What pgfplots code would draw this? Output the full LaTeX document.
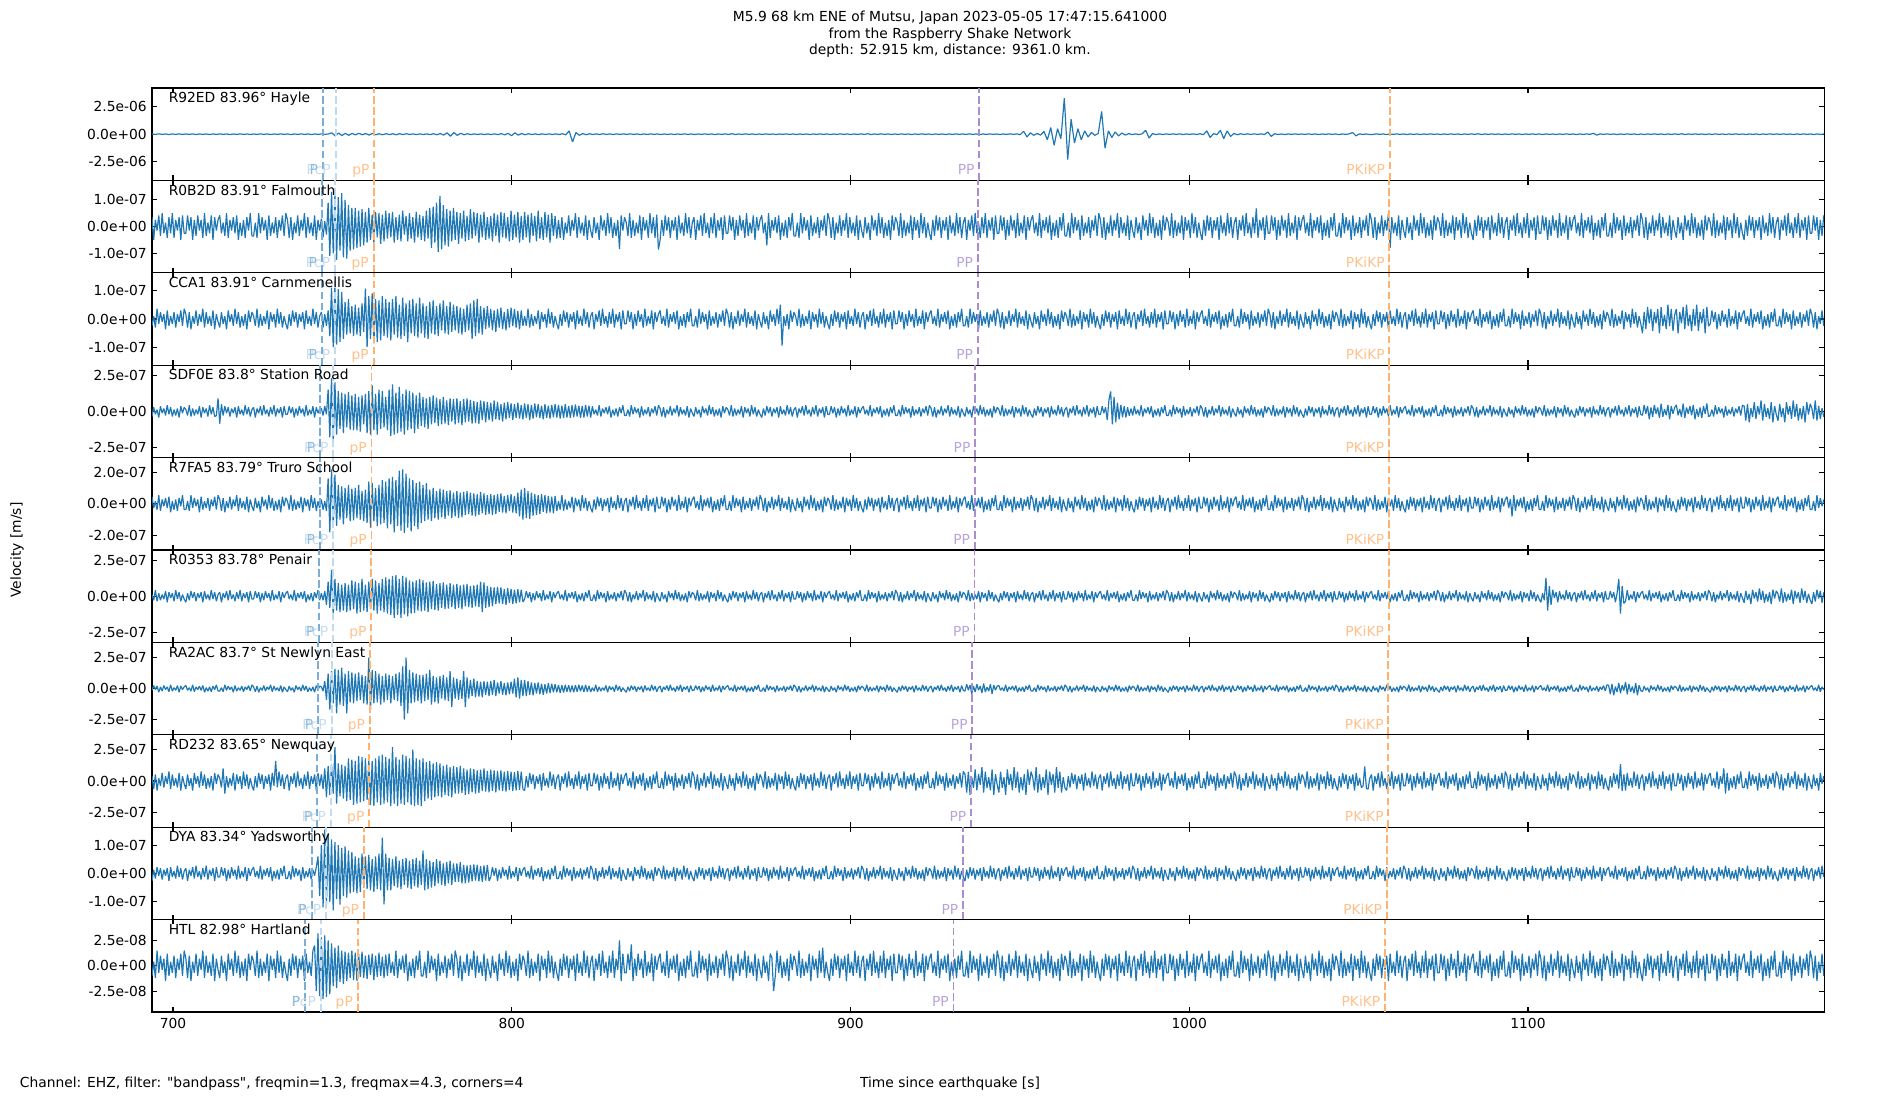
\documentclass[border=0pt]{standalone}
\usepackage{pgfplots}
\pgfplotsset{compat=1.18}
\usepackage{pgfplotstable}
\usepackage{fontspec}
\setmainfont{DejaVu Sans}[Ligatures=TeXOff]
\definecolor{tabblue}{HTML}{1F77B4}
\definecolor{lineP}{HTML}{7AAED6}
\definecolor{linePcP}{HTML}{C2DAEE}
\definecolor{lineO}{HTML}{FFB26E}
\definecolor{linePP}{HTML}{A98DCF}
\definecolor{txtP}{HTML}{8FBBDD}
\definecolor{txtPcP}{HTML}{C6DCEF}
\definecolor{txtO}{HTML}{FFC08A}
\definecolor{txtPP}{HTML}{B9A4DA}

% Panel 1: R92ED (units 1e-7 m/s), one sample per second from 693.8 s
\pgfplotstableread[header=false,row sep=\\]{
0.2\\ -0.2\\ 0.3\\ -0.2\\ 0.2\\ -0.3\\ 0.2\\ -0.2\\ 0.3\\ -0.2\\ 0.2\\ -0.2\\ 0.3\\ -0.3\\ 0.2\\ -0.2\\ 0.2\\ -0.3\\ 0.2\\ -0.2\\
0.3\\ -0.2\\ 0.2\\ -0.3\\ 0.2\\ -0.2\\ 0.3\\ -0.2\\ 0.2\\ -0.3\\ 0.2\\ -0.2\\ 0.3\\ -0.2\\ 0.2\\ -0.3\\ 0.2\\ -0.2\\ 0.3\\ -0.2\\
0.2\\ -0.3\\ 0.2\\ -0.2\\ 0.3\\ -0.2\\ 0.2\\ -0.3\\ 0.2\\ -0.2\\ 0.3\\ -0.2\\ 0.2\\ 1.2\\ -1.5\\ 1.0\\ -1.2\\ 0.8\\ -1.0\\ 0.7\\
-0.6\\ 0.8\\ -0.5\\ 0.6\\ -0.8\\ 0.7\\ -0.5\\ 0.4\\ -0.5\\ 0.5\\ -0.4\\ 0.4\\ -0.5\\ 0.4\\ -0.3\\ 0.4\\ -0.3\\ 0.3\\ -0.4\\ 0.3\\
-0.3\\ 0.3\\ -0.4\\ 0.4\\ -0.5\\ 0.6\\ -0.8\\ 1.2\\ -1.8\\ 1.5\\ -1.0\\ 0.8\\ -0.5\\ 0.4\\ -0.4\\ 0.3\\ -0.3\\ 0.3\\ -0.4\\ 0.3\\
-0.3\\ 0.3\\ -0.4\\ 0.5\\ -0.6\\ 0.8\\ -1.4\\ 1.2\\ -0.8\\ 0.6\\ -0.5\\ 0.4\\ -0.3\\ 0.3\\ -0.4\\ 0.3\\ -0.3\\ 0.3\\ -0.3\\ 0.3\\
-0.3\\ 0.4\\ -0.6\\ 3.0\\ -7.0\\ 1.5\\ -1.0\\ 0.6\\ -0.5\\ 0.4\\ -0.3\\ 0.3\\ -0.3\\ 0.4\\ -0.3\\ 0.3\\ -0.3\\ 0.3\\ -0.2\\ 0.3\\
-0.2\\ 0.3\\ -0.2\\ 0.2\\ -0.3\\ 0.2\\ -0.2\\ 0.3\\ -0.2\\ 0.2\\ -0.3\\ 0.2\\ -0.2\\ 0.2\\ -0.3\\ 0.2\\ -0.2\\ 0.3\\ -0.2\\ 0.2\\
-0.3\\ 0.2\\ -0.2\\ 0.3\\ -0.2\\ 0.2\\ -0.3\\ 0.2\\ -0.2\\ 0.3\\ -0.2\\ 0.4\\ -0.3\\ 0.2\\ -0.2\\ 0.3\\ -0.2\\ 0.2\\ -0.3\\ 0.2\\
-0.2\\ 0.3\\ -0.2\\ 0.2\\ -0.3\\ 0.2\\ -0.2\\ 0.3\\ -0.2\\ 0.2\\ -0.3\\ 0.2\\ -0.2\\ 0.2\\ -0.3\\ 0.2\\ -0.2\\ 0.3\\ -0.2\\ 0.2\\
-0.3\\ 0.2\\ -0.2\\ 0.3\\ -0.2\\ 0.2\\ -0.3\\ 0.2\\ -0.2\\ 0.3\\ -0.2\\ 0.4\\ -0.3\\ 0.2\\ -0.2\\ 0.3\\ -0.2\\ 0.2\\ -0.3\\ 0.2\\
-0.2\\ 0.3\\ -0.2\\ 0.2\\ -0.3\\ 0.2\\ -0.2\\ 0.3\\ -0.2\\ 0.2\\ -0.3\\ 0.2\\ -0.2\\ 0.2\\ -0.3\\ 0.2\\ -0.2\\ 0.3\\ -0.2\\ 0.2\\
-0.2\\ 0.3\\ -0.2\\ 0.2\\ -0.3\\ 0.2\\ -0.2\\ 0.3\\ -0.2\\ 0.2\\ -0.3\\ 0.2\\ -0.2\\ 0.3\\ -0.2\\ 0.3\\ -0.4\\ 2.7\\ -2.5\\ 1.2\\
-1.0\\ 0.6\\ -0.8\\ 2.5\\ -5\\ 6\\ -10\\ 5\\ -4\\ 32.5\\ -23\\ 13.5\\ -8\\ 5\\ -5\\ 3\\ -2.5\\ 1.5\\ -1.0\\ 0.6\\
20.5\\ -12.6\\ 3\\ -3\\ 2\\ -1.5\\ 1\\ -0.8\\ 0.5\\ -0.4\\ 0.3\\ -0.3\\ 0.4\\ 3.5\\ -3.5\\ 0.6\\ -0.4\\ 0.3\\ -0.3\\ 0.3\\
-0.2\\ 0.3\\ -0.2\\ 0.3\\ -0.3\\ 0.2\\ -0.2\\ 0.3\\ -0.3\\ 0.4\\ -0.4\\ 3\\ -3\\ 0.5\\ -0.5\\ 3.5\\ -4\\ 3\\ -2\\ 0.6\\
-0.5\\ 0.4\\ -0.3\\ 0.3\\ -0.2\\ 0.3\\ -0.2\\ 0.3\\ -0.3\\ 2\\ -2\\ 0.4\\ -0.3\\ 0.2\\ -0.3\\ 0.2\\ -0.2\\ 0.3\\ -0.2\\ 0.2\\
-0.2\\ 0.3\\ -0.2\\ 0.2\\ -0.3\\ 0.2\\ -0.2\\ 0.3\\ -0.2\\ 0.2\\ -0.3\\ 0.2\\ -0.2\\ 0.3\\ 1.5\\ -1.5\\ 0.3\\ -0.2\\ 0.2\\ -0.3\\
-0.2\\ 0.3\\ -0.2\\ 0.2\\ -0.3\\ 0.2\\ -0.2\\ 0.3\\ -0.2\\ 0.2\\ -0.3\\ 0.2\\ -0.2\\ 0.2\\ -0.3\\ 0.2\\ -0.2\\ 0.3\\ -0.2\\ 0.2\\
-0.3\\ 0.2\\ -0.2\\ 0.3\\ -0.2\\ 0.2\\ -0.3\\ 0.2\\ -0.2\\ 0.3\\ -0.2\\ 0.4\\ -0.3\\ 0.2\\ -0.2\\ 0.3\\ -0.2\\ 0.2\\ -0.3\\ 0.2\\
-0.2\\ 0.3\\ -0.2\\ 0.2\\ -0.3\\ 0.2\\ -0.2\\ 0.3\\ -0.2\\ 0.2\\ -0.3\\ 0.2\\ -0.2\\ 0.2\\ -0.3\\ 0.2\\ -0.2\\ 0.3\\ -0.2\\ 0.2\\
-0.3\\ 0.2\\ -0.2\\ 0.3\\ -0.2\\ 0.8\\ -0.8\\ 0.3\\ -0.2\\ 0.3\\ -0.2\\ 0.2\\ -0.3\\ 0.2\\ -0.2\\ 0.3\\ -0.2\\ 0.2\\ -0.3\\ 0.2\\
-0.3\\ 0.2\\ -0.2\\ 0.3\\ -0.2\\ 0.2\\ -0.3\\ 0.2\\ -0.2\\ 0.3\\ -0.2\\ 0.4\\ -0.3\\ 0.2\\ -0.2\\ 0.3\\ -0.2\\ 0.2\\ -0.3\\ 0.2\\
-0.2\\ 0.3\\ -0.2\\ 0.2\\ -0.3\\ 0.2\\ -0.2\\ 0.3\\ -0.2\\ 0.2\\ -0.3\\ 0.2\\ -0.2\\ 0.2\\ -0.3\\ 0.2\\ -0.2\\ 0.3\\ -0.2\\ 0.2\\
-0.2\\ 0.3\\ -0.2\\ 0.2\\ -0.3\\ 0.2\\ -0.2\\ 0.3\\ -0.2\\ 0.2\\ -0.3\\ 0.2\\ -0.2\\ 0.2\\
}\dA

% Panels 2-10: units 1e-9 m/s, two samples per second from 693.8 s
% Panel 2: R0B2D
\pgfplotstableread[header=false,row sep=\\]{
35\\ -50\\ 25\\ -15\\ 42\\ -35\\ 50\\ -25\\ 15\\ -42\\ 35\\ -25\\ 50\\ -42\\ 25\\ -15\\ 35\\ -50\\ 42\\ -25\\
-25\\ 42\\ -15\\ 35\\ -50\\ 25\\ -35\\ 42\\ -15\\ 25\\ -42\\ 50\\ -35\\ 15\\ -25\\ 42\\ -50\\ 35\\ -15\\ 25\\
42\\ -25\\ 15\\ -35\\ 50\\ -42\\ 25\\ -15\\ 35\\ -25\\ 42\\ -50\\ 15\\ -35\\ 25\\ -42\\ 35\\ -15\\ 50\\ -35\\
-35\\ 15\\ -42\\ 50\\ -25\\ 35\\ -15\\ 25\\ -50\\ 42\\ -35\\ 15\\ -25\\ 35\\ -42\\ 25\\ -15\\ 42\\ -35\\ 50\\
25\\ -42\\ 35\\ -50\\ 15\\ -25\\ 42\\ -35\\ 25\\ -15\\ 50\\ -42\\ 35\\ -25\\ 15\\ -35\\ 42\\ -50\\ 25\\ -15\\
30\\ -40\\ 20\\ -30\\ 90\\ -110\\ 130\\ -100\\ 120\\ -125\\ 110\\ -90\\ 125\\ -115\\ 100\\ -120\\ 80\\ -90\\ 70\\ -85\\
70\\ -80\\ 60\\ -75\\ 65\\ -70\\ 55\\ -60\\ 70\\ -50\\ 45\\ -60\\ 55\\ -40\\ 50\\ -65\\ 45\\ -55\\ 60\\ -45\\
50\\ -40\\ 55\\ -60\\ 35\\ -50\\ 45\\ -55\\ 60\\ -30\\ 40\\ -55\\ 50\\ -45\\ 35\\ -60\\ 55\\ -40\\ 45\\ -50\\
40\\ -55\\ 60\\ -45\\ 70\\ -80\\ 75\\ -60\\ 90\\ -95\\ 115\\ -85\\ 80\\ -70\\ 65\\ -75\\ 60\\ -55\\ 70\\ -50\\
55\\ -65\\ 50\\ -45\\ 60\\ -55\\ 40\\ -50\\ 65\\ -45\\ 55\\ -35\\ 50\\ -60\\ 45\\ -40\\ 55\\ -50\\ 35\\ -45\\
40\\ -55\\ 50\\ -35\\ 45\\ -60\\ 55\\ -40\\ 50\\ -45\\ 35\\ -55\\ 60\\ -50\\ 45\\ -40\\ 55\\ -60\\ 40\\ -50\\
55\\ -40\\ 45\\ -60\\ 50\\ -35\\ 40\\ -55\\ 60\\ -45\\ 35\\ -50\\ 55\\ -40\\ 45\\ -60\\ 50\\ -35\\ 40\\ -45\\
25\\ -42\\ 35\\ -50\\ 15\\ -25\\ 42\\ -35\\ 25\\ -15\\ 50\\ -42\\ 35\\ -25\\ 15\\ -35\\ 42\\ -50\\ 25\\ -15\\
-42\\ 35\\ -25\\ 15\\ -50\\ 42\\ -15\\ 25\\ -35\\ 50\\ -25\\ 35\\ -42\\ 15\\ -35\\ 25\\ -84\\ 42\\ -15\\ 35\\
15\\ -35\\ 50\\ -42\\ 25\\ -35\\ 15\\ -25\\ 42\\ -50\\ 35\\ -15\\ 25\\ -42\\ 50\\ -25\\ 35\\ -42\\ 45\\ -86\\
-50\\ 25\\ -35\\ 42\\ -15\\ 35\\ -42\\ 25\\ -15\\ 35\\ -50\\ 42\\ -25\\ 15\\ -35\\ 50\\ -25\\ 35\\ -42\\ 15\\
35\\ -50\\ 25\\ -15\\ 42\\ -35\\ 50\\ -25\\ 15\\ -42\\ 35\\ -25\\ 50\\ -42\\ 25\\ -15\\ 35\\ -50\\ 42\\ -25\\
-25\\ 42\\ -15\\ 35\\ -50\\ 25\\ -35\\ 42\\ -15\\ 25\\ -42\\ 50\\ -35\\ 15\\ -25\\ 42\\ -50\\ 35\\ -15\\ 25\\
42\\ -25\\ 15\\ -70\\ 50\\ -42\\ 25\\ -15\\ 35\\ -25\\ 42\\ -50\\ 15\\ -35\\ 25\\ -42\\ 35\\ -15\\ 50\\ -35\\
-35\\ 15\\ -42\\ 50\\ -25\\ 35\\ -15\\ 25\\ -50\\ 42\\ -35\\ 15\\ -25\\ 35\\ -42\\ 25\\ -15\\ 42\\ -35\\ 50\\
25\\ -42\\ 35\\ -50\\ 15\\ -25\\ 42\\ -35\\ 25\\ -15\\ 50\\ -42\\ 35\\ -25\\ 15\\ -35\\ 42\\ -50\\ 25\\ -15\\
-42\\ 35\\ -25\\ 15\\ -50\\ 42\\ -15\\ 25\\ -35\\ 50\\ -25\\ 35\\ -42\\ 15\\ -35\\ 25\\ -50\\ 42\\ -15\\ 35\\
15\\ -35\\ 50\\ -42\\ 25\\ -35\\ 15\\ -25\\ 42\\ -50\\ 35\\ -15\\ 25\\ -42\\ 50\\ -25\\ 35\\ -42\\ 15\\ -25\\
-50\\ 25\\ -35\\ 42\\ -15\\ 35\\ -42\\ 25\\ -15\\ 35\\ -50\\ 42\\ -25\\ 15\\ -35\\ 50\\ -25\\ 35\\ -42\\ 15\\
35\\ -50\\ 25\\ -15\\ 42\\ -35\\ 50\\ -25\\ 15\\ -42\\ 35\\ -25\\ 50\\ -42\\ 25\\ -15\\ 35\\ -50\\ 42\\ -25\\
-25\\ 42\\ -15\\ 35\\ -50\\ 25\\ -35\\ 42\\ -15\\ 25\\ -42\\ 50\\ -35\\ 15\\ -25\\ 42\\ -50\\ 35\\ -15\\ 25\\
42\\ -25\\ 15\\ -35\\ 50\\ -42\\ 25\\ -15\\ 35\\ -25\\ 42\\ -50\\ 15\\ -35\\ 25\\ -42\\ 35\\ -15\\ 50\\ -35\\
-35\\ 15\\ -42\\ 50\\ -25\\ 35\\ -15\\ 25\\ -50\\ 42\\ -35\\ 15\\ -25\\ 35\\ -42\\ 25\\ -15\\ 42\\ -35\\ 50\\
25\\ -42\\ 35\\ -50\\ 15\\ -25\\ 42\\ -35\\ 25\\ -15\\ 50\\ -42\\ 35\\ -25\\ 15\\ -35\\ 42\\ -50\\ 25\\ -15\\
-42\\ 35\\ -25\\ 15\\ -50\\ 42\\ -15\\ 25\\ -35\\ 50\\ -25\\ 35\\ -42\\ 15\\ -35\\ 25\\ -50\\ 42\\ -15\\ 35\\
15\\ -35\\ 50\\ -42\\ 25\\ -35\\ 15\\ -25\\ 42\\ -50\\ 35\\ -15\\ 25\\ -42\\ 50\\ -25\\ 35\\ -42\\ 15\\ -25\\
-50\\ 25\\ -35\\ 42\\ -15\\ 35\\ -42\\ 25\\ -15\\ 35\\ -50\\ 42\\ -25\\ 15\\ -35\\ 50\\ -25\\ 35\\ -42\\ 15\\
35\\ -50\\ 25\\ -15\\ 42\\ -35\\ 50\\ -25\\ 15\\ -42\\ 35\\ -25\\ 68\\ -42\\ 25\\ -15\\ 35\\ -50\\ 42\\ -25\\
-25\\ 42\\ -15\\ 35\\ -50\\ 25\\ -35\\ 42\\ -15\\ 25\\ -42\\ 50\\ -35\\ 15\\ -25\\ 42\\ -50\\ 35\\ -15\\ 25\\
42\\ -25\\ 15\\ -35\\ 50\\ -42\\ 25\\ -15\\ 35\\ -25\\ 42\\ -50\\ 15\\ -35\\ 25\\ -42\\ 35\\ -15\\ 50\\ -35\\
-35\\ 15\\ -42\\ 50\\ -25\\ 35\\ -15\\ 25\\ -50\\ 42\\ -35\\ 15\\ -25\\ 35\\ -42\\ 25\\ -15\\ 42\\ -35\\ 50\\
25\\ -42\\ 35\\ -50\\ 15\\ -25\\ 42\\ -35\\ 25\\ -15\\ 50\\ -80\\ 35\\ -25\\ 15\\ -35\\ 42\\ -50\\ 25\\ -15\\
-42\\ 35\\ -25\\ 15\\ -50\\ 42\\ -15\\ 25\\ -35\\ 50\\ -25\\ 35\\ -42\\ 15\\ -35\\ 25\\ -50\\ 42\\ -15\\ 35\\
15\\ -35\\ 50\\ -42\\ 25\\ -35\\ 15\\ -25\\ 42\\ -50\\ 35\\ -15\\ 25\\ -42\\ 50\\ -25\\ 35\\ -42\\ 15\\ -25\\
-50\\ 25\\ -35\\ 42\\ -15\\ 35\\ -42\\ 25\\ -15\\ 35\\ -50\\ 42\\ -25\\ 15\\ -35\\ 50\\ -25\\ 35\\ -42\\ 15\\
35\\ -50\\ 25\\ -15\\ 42\\ -35\\ 50\\ -25\\ 15\\ -42\\ 35\\ -25\\ 50\\ -42\\ 25\\ -15\\ 35\\ -50\\ 42\\ -25\\
-25\\ 42\\ -15\\ 35\\ -50\\ 25\\ -35\\ 42\\ -15\\ 25\\ -42\\ 50\\ -35\\ 15\\ -25\\ 42\\ -50\\ 35\\ -15\\ 25\\
42\\ -25\\ 15\\ -35\\ 50\\ -42\\ 25\\ -15\\ 35\\ -25\\ 42\\ -50\\ 15\\ -35\\ 25\\ -42\\ 35\\ -15\\ 50\\ -35\\
-35\\ 15\\ -42\\ 50\\ -25\\ 35\\ -15\\ 25\\ -50\\ 42\\ -35\\ 15\\ -25\\ 35\\ -42\\ 25\\ -15\\ 42\\ -35\\ 50\\
25\\ -42\\ 35\\ -50\\ 15\\ -25\\ 42\\ -35\\ 25\\ -15\\ 50\\ -42\\ 35\\ -25\\ 15\\ -35\\ 42\\ -50\\ 25\\ -15\\
-42\\ 35\\ -25\\ 15\\ -50\\ 42\\ -15\\ 25\\ -35\\ 50\\ -25\\ 35\\ -42\\ 15\\ -35\\ 25\\ -50\\ 42\\ -15\\ 35\\
15\\ -35\\ 50\\ -42\\ 25\\ -35\\ 15\\ -25\\ 42\\ -50\\ 35\\ -15\\ 25\\ -42\\ 50\\ -25\\ 35\\ -42\\ 15\\ -25\\
-50\\ 25\\ -35\\ 42\\ -15\\ 35\\ -42\\ 25\\ -15\\ 35\\ -50\\ 42\\ -25\\ 15\\ -35\\ 50\\ -25\\ 35\\ -42\\ 15\\
35\\ -50\\ 25\\ -15\\ 42\\ -35\\ 50\\ -25\\ 15\\ -42\\ 35\\ -25\\ 50\\ -42\\ 25\\ -15\\ 35\\ -50\\ 42\\ -25\\
-25\\ 42\\ -15\\ 35\\ -50\\ 25\\ -35\\ 42\\
}\dB

% Panel 3: CCA1
\pgfplotstableread[header=false,row sep=\\]{
-24\\ 10\\ -30\\ 36\\ -17\\ 24\\ -10\\ 17\\ -36\\ 30\\ -24\\ 10\\ -17\\ 24\\ -30\\ 17\\ -10\\ 30\\ -24\\ 36\\
17\\ -30\\ 24\\ -36\\ 10\\ -17\\ 30\\ -24\\ 17\\ -10\\ 36\\ -30\\ 24\\ -17\\ 10\\ -24\\ 30\\ -36\\ 17\\ -10\\
-30\\ 24\\ -17\\ 10\\ -36\\ 30\\ -10\\ 17\\ -24\\ 36\\ -17\\ 24\\ -30\\ 10\\ -24\\ 17\\ -36\\ 30\\ -10\\ 24\\
10\\ -24\\ 36\\ -30\\ 17\\ -24\\ 10\\ -17\\ 30\\ -36\\ 24\\ -10\\ 17\\ -30\\ 36\\ -17\\ 24\\ -30\\ 10\\ -17\\
-36\\ 17\\ -24\\ 30\\ -10\\ 24\\ -30\\ 17\\ -10\\ 24\\ -36\\ 30\\ -17\\ 10\\ -24\\ 36\\ -17\\ 24\\ -30\\ 10\\
24\\ -30\\ 17\\ -24\\ 30\\ -60\\ 110\\ -99\\ 125\\ -90\\ 105\\ -80\\ 95\\ -70\\ 60\\ -55\\ 70\\ -50\\ 45\\ -60\\
50\\ -55\\ 40\\ -60\\ 55\\ -45\\ 106\\ -99\\ 80\\ -70\\ 90\\ -85\\ 70\\ -80\\ 65\\ -75\\ 80\\ -60\\ 70\\ -65\\
60\\ -75\\ 70\\ -55\\ 80\\ -65\\ 50\\ -70\\ 75\\ -60\\ 55\\ -80\\ 65\\ -50\\ 70\\ -60\\ 55\\ -65\\ 75\\ -50\\
55\\ -65\\ 45\\ -70\\ 60\\ -50\\ 65\\ -55\\ 45\\ -60\\ 55\\ -40\\ 65\\ -50\\ 45\\ -55\\ 60\\ -45\\ 50\\ -40\\
45\\ -50\\ 40\\ -55\\ 35\\ -45\\ 50\\ -40\\ 55\\ -70\\ 65\\ -60\\ 70\\ -50\\ 45\\ -55\\ 40\\ -35\\ 45\\ -30\\
35\\ -40\\ 30\\ -45\\ 35\\ -30\\ 40\\ -35\\ 25\\ -40\\ 35\\ -30\\ 40\\ -25\\ 35\\ -30\\ 28\\ -36\\ 30\\ -24\\
10\\ -24\\ 36\\ -30\\ 17\\ -24\\ 10\\ -17\\ 30\\ -36\\ 24\\ -10\\ 17\\ -30\\ 36\\ -17\\ 24\\ -30\\ 10\\ -17\\
-36\\ 17\\ -24\\ 30\\ -10\\ 24\\ -30\\ 17\\ -10\\ 24\\ -36\\ 30\\ -17\\ 10\\ -24\\ 36\\ -17\\ 24\\ -30\\ 10\\
24\\ -36\\ 17\\ -10\\ 30\\ -24\\ 36\\ -17\\ 10\\ -30\\ 24\\ -17\\ 36\\ -30\\ 17\\ -10\\ 24\\ -36\\ 30\\ -17\\
-17\\ 30\\ -10\\ 24\\ -36\\ 17\\ -24\\ 30\\ -10\\ 17\\ -30\\ 36\\ -24\\ 10\\ -17\\ 30\\ -36\\ 24\\ -10\\ 17\\
30\\ -17\\ 10\\ -24\\ 36\\ -30\\ 17\\ -10\\ 24\\ -17\\ 30\\ -36\\ 10\\ -24\\ 17\\ -30\\ 24\\ -10\\ 36\\ -24\\
-24\\ 10\\ -30\\ 36\\ -17\\ 24\\ -10\\ 17\\ -36\\ 30\\ -24\\ 10\\ -17\\ 24\\ -30\\ 17\\ -10\\ 30\\ -24\\ 36\\
17\\ -30\\ 24\\ -36\\ 10\\ -17\\ 30\\ -24\\ 17\\ -10\\ 36\\ -30\\ 24\\ -17\\ 10\\ -24\\ 30\\ -36\\ 17\\ -10\\
-30\\ 24\\ -17\\ 10\\ -36\\ 30\\ -10\\ 17\\ -24\\ 36\\ -17\\ 50\\ -93\\ 10\\ -24\\ 17\\ -36\\ 30\\ -10\\ 24\\
10\\ -24\\ 36\\ -30\\ 17\\ -24\\ 10\\ -17\\ 30\\ -36\\ 24\\ -10\\ 17\\ -30\\ 36\\ -17\\ 24\\ -30\\ 10\\ -17\\
-36\\ 17\\ -24\\ 30\\ -10\\ 24\\ -30\\ 17\\ -10\\ 24\\ -36\\ 30\\ -17\\ 10\\ -24\\ 36\\ -17\\ 24\\ -30\\ 10\\
24\\ -36\\ 17\\ -10\\ 30\\ -24\\ 36\\ -17\\ 10\\ -30\\ 24\\ -17\\ 36\\ -30\\ 17\\ -10\\ 24\\ -36\\ 30\\ -17\\
-17\\ 30\\ -10\\ 24\\ -36\\ 17\\ -24\\ 30\\ -10\\ 17\\ -30\\ 36\\ -24\\ 10\\ -17\\ 30\\ -36\\ 24\\ -10\\ 17\\
30\\ -17\\ 10\\ -24\\ 36\\ -30\\ 17\\ -10\\ 24\\ -17\\ 30\\ -36\\ 10\\ -24\\ 17\\ -30\\ 24\\ -10\\ 36\\ -24\\
-24\\ 10\\ -30\\ 36\\ -17\\ 24\\ -10\\ 17\\ -36\\ 30\\ -24\\ 10\\ -17\\ 24\\ -30\\ 17\\ -10\\ 30\\ -24\\ 36\\
17\\ -30\\ 24\\ -36\\ 10\\ -17\\ 30\\ -24\\ 17\\ -10\\ 36\\ -30\\ 24\\ -17\\ 10\\ -24\\ 30\\ -36\\ 17\\ -10\\
-30\\ 24\\ -17\\ 10\\ -36\\ 30\\ -10\\ 17\\ -24\\ 36\\ -17\\ 24\\ -30\\ 10\\ -24\\ 17\\ -36\\ 30\\ -10\\ 24\\
10\\ -24\\ 36\\ -30\\ 17\\ -24\\ 10\\ -17\\ 30\\ -36\\ 24\\ -10\\ 17\\ -30\\ 36\\ -17\\ 24\\ -30\\ 10\\ -17\\
-36\\ 17\\ -24\\ 30\\ -10\\ 24\\ -30\\ 17\\ -10\\ 24\\ -36\\ 30\\ -17\\ 10\\ -24\\ 36\\ -17\\ 24\\ -30\\ 10\\
24\\ -36\\ 17\\ -10\\ 30\\ -24\\ 36\\ -17\\ 10\\ -30\\ 24\\ -17\\ 36\\ -30\\ 17\\ -10\\ 24\\ -36\\ 30\\ -17\\
-17\\ 30\\ -10\\ 24\\ -36\\ 17\\ -24\\ 30\\ -10\\ 17\\ -30\\ 36\\ -24\\ 10\\ -17\\ 30\\ -36\\ 24\\ -10\\ 17\\
30\\ -17\\ 10\\ -24\\ 36\\ -30\\ 17\\ -10\\ 24\\ -17\\ 30\\ -36\\ 10\\ -24\\ 17\\ -30\\ 24\\ -10\\ 36\\ -24\\
-24\\ 10\\ -30\\ 36\\ -17\\ 24\\ -10\\ 17\\ -36\\ 30\\ -24\\ 10\\ -17\\ 24\\ -30\\ 17\\ -10\\ 30\\ -24\\ 36\\
17\\ -30\\ 24\\ -36\\ 10\\ -17\\ 30\\ -24\\ 17\\ -10\\ 36\\ -30\\ 24\\ -17\\ 10\\ -24\\ 30\\ -36\\ 17\\ -10\\
-30\\ 24\\ -17\\ 10\\ -36\\ 30\\ -10\\ 17\\ -24\\ 36\\ -17\\ 24\\ -30\\ 10\\ -24\\ 17\\ -36\\ 30\\ -10\\ 24\\
10\\ -24\\ 36\\ -30\\ 17\\ -24\\ 10\\ -17\\ 30\\ -36\\ 24\\ -10\\ 17\\ -30\\ 36\\ -17\\ 24\\ -30\\ 10\\ -17\\
-36\\ 17\\ -24\\ 30\\ -10\\ 24\\ -30\\ 17\\ -10\\ 24\\ -36\\ 30\\ -17\\ 10\\ -24\\ 36\\ -17\\ 24\\ -30\\ 10\\
24\\ -36\\ 17\\ -10\\ 30\\ -24\\ 36\\ -17\\ 10\\ -30\\ 24\\ -17\\ 36\\ -30\\ 17\\ -10\\ 24\\ -36\\ 30\\ -17\\
-17\\ 30\\ -10\\ 24\\ -36\\ 17\\ -24\\ 30\\ -10\\ 17\\ -30\\ 36\\ -24\\ 10\\ -17\\ 30\\ -36\\ 24\\ -10\\ 17\\
30\\ -17\\ 10\\ -24\\ 36\\ -30\\ 17\\ -10\\ 24\\ -17\\ 30\\ -36\\ 10\\ -24\\ 17\\ -30\\ 24\\ -10\\ 36\\ -24\\
-24\\ 10\\ -30\\ 36\\ -17\\ 24\\ -10\\ 17\\ -36\\ 30\\ -24\\ 10\\ -17\\ 24\\ -30\\ 17\\ -10\\ 30\\ -24\\ 36\\
17\\ -30\\ 24\\ -36\\ 10\\ -17\\ 30\\ -24\\ 17\\ -10\\ 36\\ -30\\ 24\\ -17\\ 10\\ -24\\ 30\\ -36\\ 17\\ -10\\
-30\\ 24\\ -17\\ 10\\ -36\\ 30\\ -10\\ 17\\ -24\\ 36\\ -17\\ 24\\ -30\\ 10\\ -24\\ 17\\ -36\\ 30\\ -10\\ 24\\
10\\ -24\\ 36\\ -30\\ 17\\ -24\\ 10\\ -17\\ 30\\ -36\\ 24\\ -10\\ 17\\ -30\\ 36\\ -17\\ 24\\ -30\\ 10\\ -17\\
-50\\ 25\\ -35\\ 42\\ -15\\ 35\\ -42\\ 25\\ -15\\ 35\\ -50\\ 42\\ -25\\ 15\\ -35\\ 50\\ -25\\ 35\\ -42\\ 15\\
35\\ -50\\ 25\\ -15\\ 42\\ -35\\ 50\\ -25\\ 15\\ -42\\ 35\\ -25\\ 50\\ -42\\ 25\\ -15\\ 35\\ -50\\ 42\\ -25\\
-17\\ 30\\ -10\\ 24\\ -36\\ 17\\ -24\\ 30\\ -10\\ 17\\ -30\\ 36\\ -24\\ 10\\ -17\\ 30\\ -36\\ 24\\ -10\\ 17\\
30\\ -17\\ 10\\ -24\\ 36\\ -30\\ 17\\ -10\\ 24\\ -17\\ 30\\ -36\\ 10\\ -24\\ 17\\ -30\\ 24\\ -10\\ 36\\ -24\\
-24\\ 10\\ -30\\ 36\\ -17\\ 24\\ -10\\ 17\\ -36\\ 30\\ -24\\ 10\\ -17\\ 24\\ -30\\ 17\\ -10\\ 30\\ -24\\ 36\\
17\\ -30\\ 24\\ -36\\ 10\\ -17\\ 30\\ -24\\
}\dC

% Panel 4: SDF0E
\pgfplotstableread[header=false,row sep=\\]{
-35\\ 28\\ -20\\ 12\\ -42\\ 35\\ -12\\ 20\\ -28\\ 42\\ -20\\ 28\\ -35\\ 12\\ -28\\ 20\\ -42\\ 35\\ -12\\ 28\\
12\\ -28\\ 42\\ -35\\ 20\\ -28\\ 12\\ -20\\ 35\\ -42\\ 28\\ -12\\ 20\\ -35\\ 42\\ -20\\ 28\\ -35\\ -30\\ 90\\
-85\\ 50\\ -28\\ 35\\ -12\\ 28\\ -35\\ 20\\ -12\\ 28\\ -42\\ 35\\ -20\\ 12\\ -28\\ 42\\ -20\\ 28\\ -35\\ 12\\
28\\ -42\\ 20\\ -12\\ 35\\ -28\\ 42\\ -20\\ 12\\ -35\\ 28\\ -20\\ 42\\ -35\\ 20\\ -12\\ 28\\ -42\\ 35\\ -20\\
-20\\ 35\\ -12\\ 28\\ -42\\ 20\\ -28\\ 35\\ -12\\ 20\\ -35\\ 42\\ -28\\ 12\\ -20\\ 35\\ -42\\ 28\\ -12\\ 20\\
20\\ -28\\ 35\\ -20\\ 150\\ -180\\ 230\\ -216\\ 200\\ -160\\ 140\\ -120\\ 130\\ -150\\ 120\\ -110\\ 135\\ -125\\ 110\\ -130\\
120\\ -130\\ 100\\ -140\\ 110\\ -90\\ 120\\ -150\\ 140\\ -160\\ 180\\ -130\\ 120\\ -160\\ 150\\ -120\\ 140\\ -110\\ 100\\ -130\\
150\\ -170\\ 187\\ -160\\ 130\\ -150\\ 170\\ -140\\ 120\\ -160\\ 150\\ -130\\ 140\\ -120\\ 130\\ -150\\ 110\\ -120\\ 130\\ -100\\
100\\ -110\\ 90\\ -120\\ 100\\ -90\\ 110\\ -80\\ 95\\ -100\\ 85\\ -90\\ 100\\ -85\\ 75\\ -95\\ 90\\ -70\\ 85\\ -90\\
90\\ -80\\ 70\\ -95\\ 85\\ -75\\ 90\\ -70\\ 80\\ -85\\ 70\\ -80\\ 65\\ -85\\ 75\\ -60\\ 70\\ -75\\ 65\\ -60\\
60\\ -70\\ 75\\ -55\\ 65\\ -60\\ 50\\ -70\\ 60\\ -55\\ 65\\ -45\\ 55\\ -60\\ 50\\ -45\\ 60\\ -50\\ 45\\ -55\\
55\\ -45\\ 50\\ -60\\ 45\\ -50\\ 55\\ -40\\ 50\\ -45\\ 40\\ -55\\ 50\\ -45\\ 40\\ -50\\ 45\\ -40\\ 50\\ -42\\
45\\ -50\\ 40\\ -45\\ 50\\ -42\\ 38\\ -45\\ 42\\ -40\\ 48\\ -35\\ 40\\ -45\\ 38\\ -42\\ 45\\ -35\\ 40\\ -42\\
35\\ -20\\ 12\\ -28\\ 42\\ -35\\ 20\\ -12\\ 28\\ -20\\ 35\\ -42\\ 12\\ -28\\ 20\\ -35\\ 28\\ -12\\ 42\\ -28\\
-28\\ 12\\ -35\\ 42\\ -20\\ 28\\ -12\\ 20\\ -42\\ 35\\ -28\\ 12\\ -20\\ 28\\ -35\\ 20\\ -12\\ 35\\ -28\\ 42\\
20\\ -35\\ 28\\ -42\\ 12\\ -20\\ 35\\ -28\\ 20\\ -12\\ 42\\ -35\\ 28\\ -20\\ 12\\ -28\\ 35\\ -42\\ 20\\ -12\\
-35\\ 28\\ -20\\ 12\\ -42\\ 35\\ -12\\ 20\\ -28\\ 42\\ -20\\ 28\\ -35\\ 12\\ -28\\ 20\\ -42\\ 35\\ -12\\ 28\\
12\\ -28\\ 42\\ -35\\ 20\\ -28\\ 12\\ -20\\ 35\\ -42\\ 28\\ -12\\ 20\\ -35\\ 42\\ -20\\ 28\\ -35\\ 12\\ -20\\
-42\\ 20\\ -28\\ 35\\ -12\\ 28\\ -35\\ 20\\ -12\\ 28\\ -42\\ 35\\ -20\\ 12\\ -28\\ 42\\ -20\\ 28\\ -35\\ 12\\
28\\ -42\\ 20\\ -12\\ 35\\ -28\\ 42\\ -20\\ 12\\ -35\\ 28\\ -20\\ 42\\ -35\\ 20\\ -12\\ 28\\ -42\\ 35\\ -20\\
-20\\ 35\\ -12\\ 28\\ -42\\ 20\\ -28\\ 35\\ -12\\ 20\\ -35\\ 42\\ -28\\ 12\\ -20\\ 35\\ -42\\ 28\\ -12\\ 20\\
35\\ -20\\ 12\\ -28\\ 42\\ -35\\ 20\\ -12\\ 28\\ -20\\ 35\\ -42\\ 12\\ -28\\ 20\\ -35\\ 28\\ -12\\ 42\\ -28\\
-28\\ 12\\ -35\\ 42\\ -20\\ 28\\ -12\\ 20\\ -42\\ 35\\ -28\\ 12\\ -20\\ 28\\ -35\\ 20\\ -12\\ 35\\ -28\\ 42\\
20\\ -35\\ 28\\ -42\\ 12\\ -20\\ 35\\ -28\\ 20\\ -12\\ 42\\ -35\\ 28\\ -20\\ 12\\ -28\\ 35\\ -42\\ 20\\ -12\\
-35\\ 28\\ -20\\ 12\\ -42\\ 35\\ -12\\ 20\\ -28\\ 42\\ -20\\ 28\\ -35\\ 12\\ -28\\ 20\\ -42\\ 35\\ -12\\ 28\\
12\\ -28\\ 42\\ -35\\ 20\\ -28\\ 12\\ -20\\ 35\\ -42\\ 28\\ -12\\ 20\\ -35\\ 42\\ -20\\ 28\\ -35\\ 12\\ -20\\
-42\\ 20\\ -28\\ 35\\ -12\\ 28\\ -35\\ 20\\ -12\\ 28\\ -42\\ 35\\ -20\\ 12\\ -28\\ 42\\ -20\\ 28\\ -35\\ 12\\
28\\ -42\\ 20\\ -12\\ 35\\ -28\\ 42\\ -20\\ 12\\ -35\\ 28\\ -20\\ 42\\ -35\\ 20\\ -12\\ 28\\ -42\\ 35\\ -20\\
-20\\ 35\\ -12\\ 28\\ -60\\ 80\\ 138\\ -90\\ 100\\ -75\\ 60\\ -55\\ 45\\ -40\\ 35\\ -42\\ 28\\ -30\\ 20\\ -28\\
35\\ -20\\ 12\\ -28\\ 42\\ -35\\ 20\\ -12\\ 28\\ -20\\ 35\\ -42\\ 12\\ -28\\ 20\\ -35\\ 28\\ -12\\ 42\\ -28\\
-28\\ 12\\ -35\\ 42\\ -20\\ 28\\ -12\\ 20\\ -42\\ 35\\ -28\\ 12\\ -20\\ 28\\ -35\\ 20\\ -12\\ 35\\ -28\\ 42\\
20\\ -35\\ 28\\ -42\\ 12\\ -20\\ 35\\ -28\\ 20\\ -12\\ 42\\ -35\\ 28\\ -20\\ 12\\ -28\\ 35\\ -42\\ 20\\ -12\\
-35\\ 28\\ -20\\ 12\\ -42\\ 35\\ -12\\ 20\\ -28\\ 42\\ -20\\ 28\\ -35\\ 12\\ -28\\ 20\\ -42\\ 35\\ -12\\ 28\\
12\\ -28\\ 42\\ -35\\ 20\\ -28\\ 12\\ -20\\ 35\\ -42\\ 28\\ -12\\ 20\\ -35\\ 42\\ -20\\ 28\\ -35\\ 12\\ -20\\
-42\\ 20\\ -28\\ 35\\ -12\\ 28\\ -35\\ 20\\ -12\\ 28\\ -42\\ 35\\ -20\\ 12\\ -28\\ 42\\ -20\\ 28\\ -35\\ 12\\
28\\ -42\\ 20\\ -12\\ 35\\ -28\\ 42\\ -20\\ 12\\ -35\\ 28\\ -20\\ 42\\ -35\\ 20\\ -12\\ 28\\ -42\\ 35\\ -20\\
-20\\ 35\\ -12\\ 28\\ -42\\ 20\\ -28\\ 35\\ -12\\ 20\\ -35\\ 42\\ -28\\ 12\\ -20\\ 35\\ -42\\ 28\\ -12\\ 20\\
35\\ -20\\ 12\\ -28\\ 42\\ -35\\ 20\\ -12\\ 28\\ -20\\ 35\\ -42\\ 12\\ -28\\ 20\\ -35\\ 28\\ -12\\ 42\\ -28\\
-28\\ 12\\ -35\\ 42\\ -20\\ 28\\ -12\\ 20\\ -42\\ 35\\ -28\\ 12\\ -20\\ 28\\ -35\\ 20\\ -12\\ 35\\ -28\\ 42\\
20\\ -35\\ 28\\ -42\\ 12\\ -20\\ 35\\ -28\\ 20\\ -12\\ 42\\ -35\\ 28\\ -20\\ 12\\ -28\\ 35\\ -42\\ 20\\ -12\\
-35\\ 28\\ -20\\ 12\\ -42\\ 35\\ -12\\ 20\\ -28\\ 42\\ -20\\ 28\\ -35\\ 12\\ -28\\ 20\\ -42\\ 35\\ -12\\ 28\\
12\\ -28\\ 42\\ -35\\ 20\\ -28\\ 12\\ -20\\ 35\\ -42\\ 28\\ -12\\ 20\\ -35\\ 42\\ -20\\ 28\\ -35\\ 12\\ -20\\
-42\\ 20\\ -28\\ 35\\ -12\\ 28\\ -35\\ 20\\ -12\\ 28\\ -42\\ 35\\ -20\\ 12\\ -28\\ 42\\ -20\\ 28\\ -35\\ 12\\
28\\ -42\\ 20\\ -12\\ 35\\ -28\\ 42\\ -20\\ 12\\ -35\\ 28\\ -20\\ 42\\ -35\\ 20\\ -12\\ 28\\ -42\\ 35\\ -20\\
-27\\ 45\\ -16\\ 37\\ -54\\ 27\\ -37\\ 45\\ -16\\ 27\\ -45\\ 54\\ -37\\ 16\\ -27\\ 45\\ -54\\ 37\\ -16\\ 27\\
45\\ -27\\ 16\\ -37\\ 54\\ -45\\ 27\\ -16\\ 37\\ -27\\ 45\\ -54\\ 16\\ -37\\ 27\\ -45\\ 37\\ -16\\ 54\\ -37\\
-28\\ 12\\ -35\\ 42\\ -20\\ 28\\ -12\\ 20\\ -42\\ 35\\ -28\\ 12\\ -20\\ 28\\ -35\\ 20\\ -12\\ 35\\ -28\\ 42\\
38\\ -64\\ 52\\ -76\\ 22\\ -38\\ 64\\ -52\\ 38\\ -22\\ 76\\ -64\\ 52\\ -38\\ 22\\ -52\\ 64\\ -76\\ 38\\ -22\\
-64\\ 52\\ -38\\ 22\\ -76\\ 64\\ -22\\ 38\\ -52\\ 76\\ -38\\ 52\\ -64\\ 22\\ -52\\ 38\\ -76\\ 64\\ -22\\ 52\\
22\\ -52\\ 76\\ -64\\ 38\\ -52\\ 22\\ -38\\
}\dD

% Panel 5: R7FA5
\pgfplotstableread[header=false,row sep=\\]{
45\\ -27\\ 16\\ -37\\ 54\\ -45\\ 27\\ -16\\ 37\\ -27\\ 45\\ -54\\ 16\\ -37\\ 27\\ -45\\ 37\\ -16\\ 54\\ -37\\
-37\\ 16\\ -45\\ 54\\ -27\\ 37\\ -16\\ 27\\ -54\\ 45\\ -37\\ 16\\ -27\\ 37\\ -45\\ 27\\ -16\\ 45\\ -37\\ 54\\
27\\ -45\\ 37\\ -54\\ 16\\ -27\\ 45\\ -37\\ 27\\ -16\\ 54\\ -45\\ 37\\ -27\\ 16\\ -37\\ 45\\ -54\\ 27\\ -16\\
-45\\ 37\\ -27\\ 16\\ -54\\ 45\\ -16\\ 27\\ -37\\ 54\\ -27\\ 37\\ -45\\ 16\\ -37\\ 27\\ -54\\ 45\\ -16\\ 37\\
16\\ -37\\ 54\\ -45\\ 27\\ -37\\ 16\\ -27\\ 45\\ -54\\ 37\\ -16\\ 27\\ -45\\ 54\\ -27\\ 37\\ -45\\ 16\\ -27\\
27\\ -37\\ 16\\ -45\\ 160\\ -180\\ 217\\ -150\\ 184\\ -140\\ 120\\ -100\\ 110\\ -130\\ 100\\ -90\\ 120\\ -110\\ 95\\ -105\\
100\\ -90\\ 120\\ -100\\ 80\\ -110\\ 90\\ -120\\ 140\\ -150\\ 130\\ -110\\ 100\\ -140\\ 120\\ -130\\ 150\\ -120\\ 140\\ -155\\
160\\ -130\\ 170\\ -180\\ 150\\ -140\\ 210\\ -170\\ 217\\ -184\\ 190\\ -150\\ 160\\ -175\\ 150\\ -140\\ 130\\ -160\\ 140\\ -120\\
120\\ -110\\ 130\\ -100\\ 90\\ -110\\ 100\\ -90\\ 80\\ -100\\ 95\\ -85\\ 90\\ -95\\ 80\\ -75\\ 85\\ -90\\ 70\\ -80\\
80\\ -90\\ 70\\ -85\\ 75\\ -70\\ 80\\ -65\\ 70\\ -75\\ 65\\ -80\\ 60\\ -70\\ 75\\ -60\\ 65\\ -70\\ 55\\ -65\\
60\\ -70\\ 55\\ -65\\ 60\\ -50\\ 65\\ -55\\ 50\\ -60\\ 55\\ -45\\ 60\\ -55\\ 50\\ -60\\ 70\\ -80\\ 90\\ -100\\
100\\ -90\\ 80\\ -95\\ 70\\ -75\\ 60\\ -70\\ 55\\ -65\\ 60\\ -50\\ 55\\ -60\\ 50\\ -55\\ 45\\ -60\\ 50\\ -45\\
16\\ -37\\ 54\\ -45\\ 27\\ -37\\ 16\\ -27\\ 45\\ -54\\ 37\\ -16\\ 27\\ -45\\ 54\\ -27\\ 37\\ -45\\ 16\\ -27\\
-54\\ 27\\ -37\\ 45\\ -16\\ 37\\ -45\\ 27\\ -16\\ 37\\ -54\\ 45\\ -27\\ 16\\ -37\\ 54\\ -27\\ 37\\ -45\\ 16\\
37\\ -54\\ 27\\ -16\\ 45\\ -37\\ 54\\ -27\\ 16\\ -45\\ 37\\ -27\\ 54\\ -45\\ 27\\ -16\\ 37\\ -54\\ 45\\ -27\\
-27\\ 45\\ -16\\ 37\\ -54\\ 27\\ -37\\ 45\\ -16\\ 27\\ -45\\ 54\\ -37\\ 16\\ -27\\ 45\\ -54\\ 37\\ -16\\ 27\\
45\\ -27\\ 16\\ -37\\ 54\\ -45\\ 27\\ -16\\ 37\\ -27\\ 45\\ -54\\ 16\\ -37\\ 27\\ -45\\ 37\\ -16\\ 54\\ -37\\
-37\\ 16\\ -45\\ 54\\ -27\\ 37\\ -16\\ 27\\ -54\\ 45\\ -37\\ 16\\ -27\\ 37\\ -45\\ 27\\ -16\\ 45\\ -37\\ 54\\
27\\ -45\\ 37\\ -54\\ 16\\ -27\\ 45\\ -37\\ 27\\ -16\\ 54\\ -45\\ 37\\ -27\\ 16\\ -37\\ 45\\ -54\\ 27\\ -16\\
-45\\ 37\\ -27\\ 16\\ -54\\ 45\\ -16\\ 27\\ -37\\ 54\\ -27\\ 37\\ -45\\ 16\\ -37\\ 27\\ -54\\ 45\\ -16\\ 37\\
16\\ -37\\ 54\\ -45\\ 27\\ -37\\ 16\\ -27\\ 45\\ -54\\ 37\\ -16\\ 27\\ -45\\ 54\\ -27\\ 37\\ -45\\ 16\\ -27\\
-54\\ 27\\ -37\\ 45\\ -16\\ 37\\ -45\\ 27\\ -16\\ 37\\ -54\\ 45\\ -27\\ 16\\ -37\\ 54\\ -27\\ 37\\ -45\\ 16\\
37\\ -54\\ 27\\ -16\\ 45\\ -37\\ 54\\ -27\\ 16\\ -45\\ 37\\ -27\\ 54\\ -45\\ 27\\ -16\\ 37\\ -54\\ 45\\ -27\\
-27\\ 45\\ -16\\ 37\\ -54\\ 27\\ -37\\ 45\\ -16\\ 27\\ -45\\ 54\\ -37\\ 16\\ -27\\ 45\\ -54\\ 37\\ -16\\ 27\\
45\\ -27\\ 16\\ -37\\ 54\\ -45\\ 27\\ -16\\ 37\\ -27\\ 45\\ -54\\ 16\\ -37\\ 27\\ -45\\ 37\\ -16\\ 54\\ -37\\
-37\\ 16\\ -45\\ 54\\ -27\\ 37\\ -16\\ 27\\ -54\\ 45\\ -37\\ 16\\ -27\\ 37\\ -45\\ 27\\ -16\\ 45\\ -37\\ 54\\
27\\ -45\\ 37\\ -54\\ 16\\ -27\\ 45\\ -37\\ 27\\ -16\\ 54\\ -45\\ 37\\ -27\\ 16\\ -37\\ 45\\ -54\\ 27\\ -16\\
-45\\ 37\\ -27\\ 16\\ -54\\ 45\\ -16\\ 27\\ -37\\ 54\\ -27\\ 37\\ -45\\ 16\\ -37\\ 27\\ -54\\ 45\\ -16\\ 37\\
16\\ -37\\ 54\\ -45\\ 27\\ -37\\ 16\\ -27\\ 45\\ -54\\ 37\\ -16\\ 27\\ -45\\ 54\\ -27\\ 37\\ -45\\ 16\\ -27\\
-54\\ 27\\ -37\\ 45\\ -16\\ 37\\ -45\\ 27\\ -16\\ 37\\ -54\\ 45\\ -27\\ 16\\ -37\\ 54\\ -27\\ 37\\ -45\\ 16\\
37\\ -54\\ 27\\ -16\\ 45\\ -37\\ 54\\ -27\\ 16\\ -45\\ 37\\ -27\\ 54\\ -45\\ 27\\ -16\\ 37\\ -54\\ 45\\ -27\\
-27\\ 45\\ -16\\ 37\\ -54\\ 27\\ -37\\ 45\\ -16\\ 27\\ -45\\ 54\\ -37\\ 16\\ -27\\ 45\\ -54\\ 37\\ -16\\ 27\\
45\\ -27\\ 16\\ -37\\ 54\\ -45\\ 27\\ -16\\ 37\\ -27\\ 45\\ -54\\ 16\\ -37\\ 27\\ -45\\ 37\\ -16\\ 54\\ -37\\
-37\\ 16\\ -45\\ 54\\ -27\\ 37\\ -16\\ 27\\ -54\\ 45\\ -37\\ 16\\ -27\\ 37\\ -45\\ 27\\ -16\\ 45\\ -37\\ 54\\
27\\ -45\\ 37\\ -54\\ 16\\ -27\\ 45\\ -37\\ 27\\ -16\\ 54\\ -45\\ 37\\ -27\\ 16\\ -37\\ 45\\ -54\\ 27\\ -16\\
-45\\ 37\\ -27\\ 16\\ -54\\ 45\\ -16\\ 27\\ -37\\ 54\\ -27\\ 37\\ -45\\ 16\\ -37\\ 27\\ -54\\ 45\\ -16\\ 37\\
16\\ -37\\ 54\\ -45\\ 27\\ -37\\ 16\\ -27\\ 45\\ -54\\ 37\\ -16\\ 27\\ -45\\ 54\\ -27\\ 37\\ -45\\ 16\\ -27\\
-54\\ 27\\ -37\\ 45\\ -16\\ 37\\ -45\\ 27\\ -16\\ 37\\ -54\\ 45\\ -27\\ 16\\ -37\\ 54\\ -27\\ 37\\ -45\\ 16\\
37\\ -54\\ 27\\ -16\\ 45\\ -37\\ 54\\ -27\\ 16\\ -45\\ 37\\ -27\\ 54\\ -45\\ 27\\ -16\\ 37\\ -54\\ 45\\ -27\\
-27\\ 45\\ -16\\ 37\\ -54\\ 27\\ -37\\ 45\\ -16\\ 27\\ -45\\ 54\\ -37\\ 16\\ -27\\ 45\\ -54\\ 37\\ -16\\ 27\\
45\\ -27\\ 30\\ -80\\ 54\\ -45\\ 27\\ -16\\ 37\\ -27\\ 45\\ -54\\ 16\\ -37\\ 27\\ -45\\ 37\\ -16\\ 54\\ -37\\
-37\\ 16\\ -45\\ 54\\ -27\\ 37\\ -16\\ 27\\ -54\\ 45\\ -37\\ 16\\ -27\\ 37\\ -45\\ 27\\ -16\\ 45\\ -37\\ 54\\
27\\ -45\\ 37\\ -54\\ 16\\ -27\\ 45\\ -37\\ 27\\ -16\\ 54\\ -45\\ 37\\ -27\\ 16\\ -37\\ 45\\ -54\\ 27\\ -16\\
-45\\ 37\\ -27\\ 16\\ -54\\ 45\\ -16\\ 27\\ -37\\ 54\\ -27\\ 37\\ -45\\ 16\\ -37\\ 27\\ -54\\ 45\\ -16\\ 37\\
16\\ -37\\ 54\\ -45\\ 27\\ -37\\ 16\\ -27\\ 45\\ -54\\ 37\\ -16\\ 27\\ -45\\ 54\\ -27\\ 37\\ -45\\ 16\\ -27\\
-54\\ 27\\ -37\\ 45\\ -16\\ 37\\ -45\\ 27\\ -16\\ 37\\ -54\\ 45\\ -27\\ 16\\ -37\\ 54\\ -27\\ 37\\ -45\\ 16\\
37\\ -54\\ 27\\ -16\\ 45\\ -37\\ 54\\ -27\\ 16\\ -45\\ 37\\ -27\\ 54\\ -45\\ 27\\ -16\\ 37\\ -54\\ 45\\ -27\\
-27\\ 45\\ -16\\ 37\\ -54\\ 27\\ -37\\ 45\\ -16\\ 27\\ -45\\ 54\\ -37\\ 16\\ -27\\ 45\\ -54\\ 37\\ -16\\ 27\\
45\\ -27\\ 16\\ -37\\ 54\\ -45\\ 27\\ -16\\ 37\\ -27\\ 45\\ -54\\ 16\\ -37\\ 27\\ -45\\ 37\\ -16\\ 54\\ -37\\
-37\\ 16\\ -45\\ 54\\ -27\\ 37\\ -16\\ 27\\
}\dE

% Panel 6: R0353
\pgfplotstableread[header=false,row sep=\\]{
12\\ -28\\ 42\\ -35\\ 20\\ -28\\ 12\\ -20\\ 35\\ -42\\ 28\\ -12\\ 20\\ -35\\ 42\\ -20\\ 28\\ -35\\ 12\\ -20\\
-42\\ 20\\ -28\\ 35\\ -12\\ 28\\ -35\\ 20\\ -12\\ 28\\ -42\\ 35\\ -20\\ 12\\ -28\\ 42\\ -20\\ 28\\ -35\\ 12\\
28\\ -42\\ 20\\ -12\\ 35\\ -28\\ 42\\ -20\\ 12\\ -35\\ 28\\ -20\\ 42\\ -35\\ 20\\ -12\\ 28\\ -42\\ 35\\ -20\\
-20\\ 35\\ -12\\ 28\\ -42\\ 20\\ -28\\ 35\\ -12\\ 20\\ -35\\ 42\\ -28\\ 12\\ -20\\ 35\\ -42\\ 28\\ -12\\ 20\\
35\\ -20\\ 12\\ -28\\ 42\\ -35\\ 20\\ -12\\ 28\\ -20\\ 35\\ -42\\ 12\\ -28\\ 20\\ -35\\ 28\\ -12\\ 42\\ -28\\
20\\ -28\\ 35\\ -60\\ 100\\ -80\\ 180\\ -130\\ 120\\ -100\\ 90\\ -110\\ 80\\ -100\\ 90\\ -110\\ 80\\ -100\\ 110\\ -90\\
100\\ -120\\ 90\\ -110\\ 120\\ -100\\ 80\\ -110\\ 100\\ -90\\ 120\\ -100\\ 110\\ -120\\ 90\\ -100\\ 120\\ -110\\ 130\\ -120\\
120\\ -130\\ 140\\ -150\\ 146\\ -130\\ 120\\ -150\\ 140\\ -125\\ 130\\ -140\\ 110\\ -120\\ 100\\ -115\\ 110\\ -100\\ 120\\ -105\\
110\\ -100\\ 95\\ -110\\ 100\\ -90\\ 105\\ -95\\ 85\\ -100\\ 90\\ -80\\ 95\\ -90\\ 80\\ -85\\ 90\\ -75\\ 80\\ -90\\
85\\ -80\\ 75\\ -90\\ 80\\ -70\\ 85\\ -75\\ 70\\ -80\\ 75\\ -70\\ 80\\ -75\\ 100\\ -110\\ 95\\ -80\\ 70\\ -75\\
65\\ -70\\ 60\\ -55\\ 65\\ -50\\ 60\\ -55\\ 50\\ -60\\ 55\\ -45\\ 50\\ -55\\ 45\\ -50\\ 48\\ -42\\ 45\\ -40\\
-20\\ 35\\ -12\\ 28\\ -42\\ 20\\ -28\\ 35\\ -12\\ 20\\ -35\\ 42\\ -28\\ 12\\ -20\\ 35\\ -42\\ 28\\ -12\\ 20\\
35\\ -20\\ 12\\ -28\\ 42\\ -35\\ 20\\ -12\\ 28\\ -20\\ 35\\ -42\\ 12\\ -28\\ 20\\ -35\\ 28\\ -12\\ 42\\ -28\\
-28\\ 12\\ -35\\ 42\\ -20\\ 28\\ -12\\ 20\\ -42\\ 35\\ -28\\ 12\\ -20\\ 28\\ -35\\ 20\\ -12\\ 35\\ -28\\ 42\\
20\\ -35\\ 28\\ -42\\ 12\\ -20\\ 35\\ -28\\ 20\\ -12\\ 42\\ -35\\ 28\\ -20\\ 12\\ -28\\ 35\\ -42\\ 20\\ -12\\
-35\\ 28\\ -20\\ 12\\ -42\\ 35\\ -12\\ 20\\ -28\\ 42\\ -20\\ 28\\ -35\\ 12\\ -28\\ 20\\ -42\\ 35\\ -12\\ 28\\
12\\ -28\\ 42\\ -35\\ 20\\ -28\\ 12\\ -20\\ 35\\ -42\\ 28\\ -12\\ 20\\ -35\\ 42\\ -20\\ 28\\ -35\\ 12\\ -20\\
-42\\ 20\\ -28\\ 35\\ -12\\ 28\\ -35\\ 20\\ -12\\ 28\\ -42\\ 35\\ -20\\ 12\\ -28\\ 42\\ -20\\ 28\\ -35\\ 12\\
28\\ -42\\ 20\\ -12\\ 35\\ -28\\ 42\\ -20\\ 12\\ -35\\ 28\\ -20\\ 42\\ -35\\ 20\\ -12\\ 28\\ -42\\ 35\\ -20\\
-20\\ 35\\ -12\\ 28\\ -42\\ 20\\ -28\\ 35\\ -12\\ 20\\ -35\\ 42\\ -28\\ 12\\ -20\\ 35\\ -42\\ 28\\ -12\\ 20\\
35\\ -20\\ 12\\ -28\\ 42\\ -35\\ 20\\ -12\\ 28\\ -20\\ 35\\ -42\\ 12\\ -28\\ 20\\ -35\\ 28\\ -12\\ 42\\ -28\\
-28\\ 12\\ -35\\ 42\\ -20\\ 28\\ -12\\ 20\\ -42\\ 35\\ -28\\ 12\\ -20\\ 28\\ -35\\ 20\\ -12\\ 35\\ -28\\ 42\\
20\\ -35\\ 28\\ -42\\ 12\\ -20\\ 35\\ -28\\ 20\\ -12\\ 42\\ -35\\ 28\\ -20\\ 12\\ -28\\ 35\\ -42\\ 20\\ -12\\
-35\\ 28\\ -20\\ 12\\ -42\\ 35\\ -12\\ 20\\ -28\\ 42\\ -20\\ 28\\ -35\\ 12\\ -28\\ 20\\ -42\\ 35\\ -12\\ 28\\
12\\ -28\\ 42\\ -35\\ 20\\ -28\\ 12\\ -20\\ 35\\ -42\\ 28\\ -12\\ 20\\ -35\\ 42\\ -20\\ 28\\ -35\\ 12\\ -20\\
-42\\ 20\\ -28\\ 35\\ -12\\ 28\\ -35\\ 20\\ -12\\ 28\\ -42\\ 35\\ -20\\ 12\\ -28\\ 42\\ -20\\ 28\\ -35\\ 12\\
28\\ -42\\ 20\\ -12\\ 35\\ -28\\ 42\\ -20\\ 12\\ -35\\ 28\\ -20\\ 42\\ -35\\ 20\\ -12\\ 28\\ -42\\ 35\\ -20\\
-20\\ 35\\ -12\\ 28\\ -42\\ 20\\ -28\\ 35\\ -12\\ 20\\ -35\\ 42\\ -28\\ 12\\ -20\\ 35\\ -42\\ 28\\ -12\\ 20\\
35\\ -20\\ 12\\ -28\\ 42\\ -35\\ 20\\ -12\\ 28\\ -20\\ 35\\ -42\\ 12\\ -28\\ 20\\ -35\\ 28\\ -12\\ 42\\ -28\\
-28\\ 12\\ -35\\ 42\\ -20\\ 28\\ -12\\ 20\\ -42\\ 35\\ -28\\ 12\\ -20\\ 28\\ -35\\ 20\\ -12\\ 35\\ -28\\ 42\\
20\\ -35\\ 28\\ -42\\ 12\\ -20\\ 35\\ -28\\ 20\\ -12\\ 42\\ -35\\ 28\\ -20\\ 12\\ -28\\ 35\\ -42\\ 20\\ -12\\
-35\\ 28\\ -20\\ 12\\ -42\\ 35\\ -12\\ 20\\ -28\\ 42\\ -20\\ 28\\ -35\\ 12\\ -28\\ 20\\ -42\\ 35\\ -12\\ 28\\
12\\ -28\\ 42\\ -35\\ 20\\ -28\\ 12\\ -20\\ 35\\ -42\\ 28\\ -12\\ 20\\ -35\\ 42\\ -20\\ 28\\ -35\\ 12\\ -20\\
-42\\ 20\\ -28\\ 35\\ -12\\ 28\\ -35\\ 20\\ -12\\ 28\\ -42\\ 35\\ -20\\ 12\\ -28\\ 42\\ -20\\ 28\\ -35\\ 12\\
28\\ -42\\ 20\\ -12\\ 35\\ -28\\ 42\\ -20\\ 12\\ -35\\ 28\\ -20\\ 42\\ -35\\ 20\\ -12\\ 28\\ -42\\ 35\\ -20\\
-20\\ 35\\ -12\\ 28\\ -42\\ 20\\ -28\\ 35\\ -12\\ 20\\ -35\\ 42\\ -28\\ 12\\ -20\\ 35\\ -42\\ 28\\ -12\\ 20\\
35\\ -20\\ 12\\ -28\\ 42\\ -35\\ 20\\ -12\\ 28\\ -20\\ 35\\ -42\\ 12\\ -28\\ 20\\ -35\\ 28\\ -12\\ 42\\ -28\\
-28\\ 12\\ -35\\ 42\\ -20\\ 28\\ -12\\ 20\\ -42\\ 35\\ -28\\ 12\\ -20\\ 28\\ -35\\ 20\\ -12\\ 35\\ -28\\ 42\\
20\\ -35\\ 28\\ -42\\ 12\\ -20\\ 35\\ -28\\ 20\\ -12\\ 42\\ -35\\ 28\\ -20\\ 12\\ -28\\ 35\\ -42\\ 20\\ -12\\
-35\\ 28\\ -20\\ 12\\ -42\\ 35\\ -12\\ 20\\ -28\\ 42\\ -20\\ 28\\ -35\\ 12\\ -28\\ 20\\ -42\\ 35\\ -12\\ 28\\
12\\ -28\\ 42\\ -35\\ 20\\ -28\\ 12\\ -20\\ 35\\ -42\\ 28\\ -12\\ 20\\ -35\\ 42\\ -20\\ 28\\ -35\\ 12\\ -20\\
-42\\ 20\\ -28\\ 126\\ -100\\ 70\\ -60\\ 45\\ -12\\ 28\\ -42\\ 35\\ -20\\ 12\\ -28\\ 42\\ -20\\ 28\\ -35\\ 12\\
28\\ -42\\ 20\\ -12\\ 35\\ -28\\ 42\\ -20\\ 12\\ -35\\ 28\\ -20\\ 42\\ -35\\ 20\\ -12\\ 28\\ -42\\ 35\\ -20\\
-20\\ 35\\ -12\\ 28\\ -42\\ 20\\ 120\\ -120\\ 70\\ -50\\ -35\\ 42\\ -28\\ 12\\ -20\\ 35\\ -42\\ 28\\ -12\\ 20\\
35\\ -20\\ 12\\ -28\\ 42\\ -35\\ 20\\ -12\\ 28\\ -20\\ 35\\ -42\\ 12\\ -28\\ 20\\ -35\\ 28\\ -12\\ 42\\ -28\\
-28\\ 12\\ -35\\ 42\\ -20\\ 28\\ -12\\ 20\\ -42\\ 35\\ -28\\ 12\\ -20\\ 28\\ -35\\ 20\\ -12\\ 35\\ -28\\ 42\\
20\\ -35\\ 28\\ -42\\ 12\\ -20\\ 35\\ -28\\ 20\\ -12\\ 42\\ -35\\ 28\\ -20\\ 12\\ -28\\ 35\\ -42\\ 20\\ -12\\
-45\\ 37\\ -27\\ 16\\ -54\\ 45\\ -16\\ 27\\ -37\\ 54\\ -27\\ 37\\ -45\\ 16\\ -37\\ 27\\ -54\\ 45\\ -16\\ 37\\
16\\ -37\\ 54\\ -45\\ 27\\ -37\\ 16\\ -27\\ 45\\ -54\\ 37\\ -16\\ 27\\ -45\\ 54\\ -27\\ 37\\ -45\\ 16\\ -27\\
-54\\ 27\\ -37\\ 45\\ -16\\ 37\\ -45\\ 27\\
}\dF

% Panel 7: RA2AC
\pgfplotstableread[header=false,row sep=\\]{
-14\\ 25\\ -8\\ 20\\ -30\\ 14\\ -20\\ 25\\ -8\\ 14\\ -25\\ 30\\ -20\\ 8\\ -14\\ 25\\ -30\\ 20\\ -8\\ 14\\
25\\ -14\\ 8\\ -20\\ 30\\ -25\\ 14\\ -8\\ 20\\ -14\\ 25\\ -30\\ 8\\ -20\\ 14\\ -25\\ 20\\ -8\\ 30\\ -20\\
-20\\ 8\\ -25\\ 30\\ -14\\ 20\\ -8\\ 14\\ -30\\ 25\\ -20\\ 8\\ -14\\ 20\\ -25\\ 14\\ -8\\ 25\\ -20\\ 30\\
14\\ -25\\ 20\\ -30\\ 8\\ -14\\ 25\\ -20\\ 14\\ -8\\ 30\\ -25\\ 20\\ -14\\ 8\\ -20\\ 25\\ -30\\ 14\\ -8\\
-25\\ 20\\ -14\\ 8\\ -30\\ 25\\ -8\\ 14\\ -20\\ 30\\ -14\\ 20\\ -25\\ 8\\ -20\\ 14\\ -30\\ 25\\ -8\\ 20\\
14\\ -20\\ 60\\ -90\\ 120\\ -170\\ 140\\ -120\\ 160\\ -200\\ 150\\ -130\\ 170\\ -140\\ 120\\ -200\\ 140\\ -110\\ 130\\ -120\\
120\\ -100\\ 130\\ -90\\ 110\\ -120\\ 100\\ -130\\ 250\\ -170\\ 150\\ -120\\ 140\\ -110\\ 120\\ -130\\ 100\\ -110\\ 120\\ -90\\
110\\ -120\\ 100\\ -90\\ 120\\ -100\\ 130\\ -140\\ 180\\ -250\\ 250\\ -200\\ 150\\ -120\\ 130\\ -110\\ 120\\ -100\\ 110\\ -120\\
110\\ -100\\ 120\\ -90\\ 150\\ -130\\ 100\\ -110\\ 90\\ -120\\ 100\\ -80\\ 110\\ -95\\ 90\\ -100\\ 140\\ -150\\ 90\\ -80\\
80\\ -90\\ 70\\ -85\\ 140\\ -150\\ 90\\ -80\\ 70\\ -60\\ 80\\ -70\\ 60\\ -65\\ 55\\ -70\\ 60\\ -50\\ 55\\ -60\\
60\\ -50\\ 70\\ -60\\ 50\\ -40\\ 60\\ -50\\ 45\\ -55\\ 50\\ -45\\ 55\\ -40\\ 80\\ -70\\ 90\\ -80\\ 70\\ -60\\
70\\ -60\\ 60\\ -50\\ 50\\ -55\\ 45\\ -40\\ 50\\ -45\\ 40\\ -50\\ 35\\ -40\\ 45\\ -35\\ 40\\ -30\\ 35\\ -30\\
30\\ -35\\ 28\\ -32\\ 30\\ -25\\ 28\\ -30\\ 25\\ -30\\ 28\\ -25\\ 30\\ -22\\ 25\\ -28\\ 30\\ -25\\ 22\\ -28\\
8\\ -20\\ 30\\ -25\\ 14\\ -20\\ 8\\ -14\\ 25\\ -30\\ 20\\ -8\\ 14\\ -25\\ 30\\ -14\\ 20\\ -25\\ 8\\ -14\\
-30\\ 14\\ -20\\ 25\\ -8\\ 20\\ -25\\ 14\\ -8\\ 20\\ -30\\ 25\\ -14\\ 8\\ -20\\ 30\\ -14\\ 20\\ -25\\ 8\\
20\\ -30\\ 14\\ -8\\ 25\\ -20\\ 30\\ -14\\ 8\\ -25\\ 20\\ -14\\ 30\\ -25\\ 14\\ -8\\ 20\\ -30\\ 25\\ -14\\
-14\\ 25\\ -8\\ 20\\ -30\\ 14\\ -20\\ 25\\ -8\\ 14\\ -25\\ 30\\ -20\\ 8\\ -14\\ 25\\ -30\\ 20\\ -8\\ 14\\
25\\ -14\\ 8\\ -20\\ 30\\ -25\\ 14\\ -8\\ 20\\ -14\\ 25\\ -30\\ 8\\ -20\\ 14\\ -25\\ 20\\ -8\\ 30\\ -20\\
-20\\ 8\\ -25\\ 30\\ -14\\ 20\\ -8\\ 14\\ -30\\ 25\\ -20\\ 8\\ -14\\ 20\\ -25\\ 14\\ -8\\ 25\\ -20\\ 30\\
14\\ -25\\ 20\\ -30\\ 8\\ -14\\ 25\\ -20\\ 14\\ -8\\ 30\\ -25\\ 20\\ -14\\ 8\\ -20\\ 25\\ -30\\ 14\\ -8\\
-25\\ 20\\ -14\\ 8\\ -30\\ 25\\ -8\\ 14\\ -20\\ 30\\ -14\\ 20\\ -25\\ 8\\ -20\\ 14\\ -30\\ 25\\ -8\\ 20\\
8\\ -20\\ 30\\ -25\\ 14\\ -20\\ 8\\ -14\\ 25\\ -30\\ 20\\ -8\\ 14\\ -25\\ 30\\ -14\\ 20\\ -25\\ 8\\ -14\\
-30\\ 14\\ -20\\ 25\\ -8\\ 20\\ -25\\ 14\\ -8\\ 20\\ -30\\ 25\\ -14\\ 8\\ -20\\ 30\\ -14\\ 20\\ -25\\ 8\\
20\\ -30\\ 14\\ -8\\ 25\\ -20\\ 30\\ -14\\ 8\\ -25\\ 20\\ -14\\ 30\\ -25\\ 14\\ -8\\ 20\\ -30\\ 25\\ -14\\
-20\\ 35\\ -12\\ 28\\ -42\\ 20\\ -28\\ 35\\ -12\\ 20\\ -35\\ 42\\ -28\\ 12\\ -20\\ 35\\ -42\\ 28\\ -12\\ 20\\
25\\ -14\\ 8\\ -20\\ 30\\ -25\\ 14\\ -8\\ 20\\ -14\\ 25\\ -30\\ 8\\ -20\\ 14\\ -25\\ 20\\ -8\\ 30\\ -20\\
-20\\ 8\\ -25\\ 30\\ -14\\ 20\\ -8\\ 14\\ -30\\ 25\\ -20\\ 8\\ -14\\ 20\\ -25\\ 14\\ -8\\ 25\\ -20\\ 30\\
14\\ -25\\ 20\\ -30\\ 8\\ -14\\ 25\\ -20\\ 14\\ -8\\ 30\\ -25\\ 20\\ -14\\ 8\\ -20\\ 25\\ -30\\ 14\\ -8\\
-25\\ 20\\ -14\\ 8\\ -30\\ 25\\ -8\\ 14\\ -20\\ 30\\ -14\\ 20\\ -25\\ 8\\ -20\\ 14\\ -30\\ 25\\ -8\\ 20\\
8\\ -20\\ 30\\ -25\\ 14\\ -20\\ 8\\ -14\\ 25\\ -30\\ 20\\ -8\\ 14\\ -25\\ 30\\ -14\\ 20\\ -25\\ 8\\ -14\\
-30\\ 14\\ -20\\ 25\\ -8\\ 20\\ -25\\ 14\\ -8\\ 20\\ -30\\ 25\\ -14\\ 8\\ -20\\ 30\\ -14\\ 20\\ -25\\ 8\\
20\\ -30\\ 14\\ -8\\ 25\\ -20\\ 30\\ -14\\ 8\\ -25\\ 20\\ -14\\ 30\\ -25\\ 14\\ -8\\ 20\\ -30\\ 25\\ -14\\
-14\\ 25\\ -8\\ 20\\ -30\\ 14\\ -20\\ 25\\ -8\\ 14\\ -25\\ 30\\ -20\\ 8\\ -14\\ 25\\ -30\\ 20\\ -8\\ 14\\
25\\ -14\\ 8\\ -20\\ 30\\ -25\\ 14\\ -8\\ 20\\ -14\\ 25\\ -30\\ 8\\ -20\\ 14\\ -25\\ 20\\ -8\\ 30\\ -20\\
-20\\ 8\\ -25\\ 30\\ -14\\ 20\\ -8\\ 14\\ -30\\ 25\\ -20\\ 8\\ -14\\ 20\\ -25\\ 14\\ -8\\ 25\\ -20\\ 30\\
14\\ -25\\ 20\\ -30\\ 8\\ -14\\ 25\\ -20\\ 14\\ -8\\ 30\\ -25\\ 20\\ -14\\ 8\\ -20\\ 25\\ -30\\ 14\\ -8\\
-25\\ 20\\ -14\\ 8\\ -30\\ 25\\ -8\\ 14\\ -20\\ 30\\ -14\\ 20\\ -25\\ 8\\ -20\\ 14\\ -30\\ 25\\ -8\\ 20\\
8\\ -20\\ 30\\ -25\\ 14\\ -20\\ 8\\ -14\\ 25\\ -30\\ 20\\ -8\\ 14\\ -25\\ 30\\ -14\\ 20\\ -25\\ 8\\ -14\\
-30\\ 14\\ -20\\ 25\\ -8\\ 20\\ -25\\ 14\\ -8\\ 20\\ -30\\ 25\\ -14\\ 8\\ -20\\ 30\\ -14\\ 20\\ -25\\ 8\\
20\\ -30\\ 14\\ -8\\ 25\\ -20\\ 30\\ -14\\ 8\\ -25\\ 20\\ -14\\ 30\\ -25\\ 14\\ -8\\ 20\\ -30\\ 25\\ -14\\
-14\\ 25\\ -8\\ 20\\ -30\\ 14\\ -20\\ 25\\ -8\\ 14\\ -25\\ 30\\ -20\\ 8\\ -14\\ 25\\ -30\\ 20\\ -8\\ 14\\
25\\ -14\\ 8\\ -20\\ 30\\ -25\\ 14\\ -8\\ 20\\ -14\\ 25\\ -30\\ 8\\ -20\\ 14\\ -25\\ 20\\ -8\\ 30\\ -20\\
-20\\ 8\\ -25\\ 30\\ -14\\ 20\\ -8\\ 14\\ -30\\ 25\\ -20\\ 8\\ -14\\ 20\\ -25\\ 14\\ -8\\ 25\\ -20\\ 30\\
27\\ -45\\ 37\\ -54\\ 16\\ -27\\ 45\\ -37\\ 27\\ -16\\ 54\\ -45\\ 37\\ -27\\ 16\\ -37\\ 45\\ -54\\ 27\\ -16\\
-25\\ 20\\ -14\\ 8\\ -30\\ 25\\ -8\\ 14\\ -20\\ 30\\ -14\\ 20\\ -25\\ 8\\ -20\\ 14\\ -30\\ 25\\ -8\\ 20\\
8\\ -20\\ 30\\ -25\\ 14\\ -20\\ 8\\ -14\\ 25\\ -30\\ 20\\ -8\\ 14\\ -25\\ 30\\ -14\\ 20\\ -25\\ 8\\ -14\\
-30\\ 14\\ -20\\ 25\\ -8\\ 20\\ -25\\ 14\\ -8\\ 20\\ -30\\ 25\\ -14\\ 8\\ -20\\ 30\\ -14\\ 20\\ -25\\ 8\\
20\\ -30\\ 14\\ -8\\ 25\\ -20\\ 30\\ -14\\ 8\\ -25\\ 20\\ -14\\ 30\\ -25\\ 14\\ -8\\ 20\\ -30\\ 25\\ -14\\
-14\\ 25\\ -8\\ 20\\ -30\\ 14\\ -20\\ 25\\ -8\\ 14\\ -25\\ 30\\ -20\\ 8\\ -14\\ 25\\ -30\\ 20\\ -8\\ 14\\
25\\ -14\\ 8\\ -20\\ 30\\ -25\\ 14\\ -8\\
}\dG

% Panel 8: RD232
\pgfplotstableread[header=false,row sep=\\]{
38\\ -64\\ 52\\ -76\\ 22\\ -38\\ 64\\ -52\\ 38\\ -22\\ 76\\ -64\\ 52\\ -38\\ 22\\ -52\\ 64\\ -76\\ 38\\ -22\\
-64\\ 52\\ -38\\ 22\\ -76\\ 64\\ -22\\ 38\\ -52\\ 76\\ -38\\ 52\\ -64\\ 22\\ -52\\ 38\\ -76\\ 64\\ -22\\ 52\\
22\\ -52\\ 100\\ -100\\ 38\\ -52\\ 22\\ -38\\ 64\\ -76\\ 52\\ -22\\ 38\\ -64\\ 76\\ -38\\ 52\\ -64\\ 22\\ -38\\
-76\\ 38\\ -52\\ 64\\ -22\\ 52\\ -64\\ 38\\ -22\\ 52\\ -76\\ 64\\ -38\\ 160\\ -50\\ 76\\ -38\\ 52\\ -64\\ 22\\
52\\ -76\\ 38\\ -22\\ 64\\ -52\\ 76\\ -38\\ 22\\ -64\\ 52\\ -38\\ 76\\ -64\\ 38\\ -22\\ 52\\ -76\\ 64\\ -38\\
52\\ -64\\ 100\\ -130\\ 120\\ -110\\ 130\\ -100\\ 270\\ -180\\ 140\\ -120\\ 130\\ -140\\ 120\\ -160\\ 180\\ -150\\ 170\\ -190\\
160\\ -180\\ 200\\ -170\\ 190\\ -160\\ 180\\ -150\\ 170\\ -190\\ 160\\ -200\\ 180\\ -170\\ 200\\ -190\\ 210\\ -180\\ 190\\ -170\\
180\\ -200\\ 270\\ -180\\ 190\\ -200\\ 170\\ -180\\ 210\\ -190\\ 200\\ -170\\ 180\\ -190\\ 250\\ -200\\ 180\\ -190\\ 170\\ -200\\
180\\ -160\\ 150\\ -140\\ 160\\ -150\\ 140\\ -130\\ 150\\ -120\\ 140\\ -130\\ 120\\ -110\\ 130\\ -120\\ 110\\ -130\\ 120\\ -100\\
110\\ -100\\ 120\\ -95\\ 100\\ -110\\ 90\\ -105\\ 100\\ -90\\ 95\\ -100\\ 85\\ -95\\ 90\\ -80\\ 100\\ -85\\ 80\\ -90\\
90\\ -80\\ 85\\ -90\\ 80\\ -75\\ 85\\ -80\\ 75\\ -85\\ 80\\ -70\\ 75\\ -80\\ 70\\ -75\\ 80\\ -70\\ 75\\ -65\\
-76\\ 38\\ -52\\ 64\\ -22\\ 52\\ -64\\ 38\\ -22\\ 52\\ -76\\ 64\\ -38\\ 22\\ -52\\ 76\\ -38\\ 52\\ -64\\ 22\\
52\\ -76\\ 38\\ -22\\ 64\\ -52\\ 76\\ -38\\ 22\\ -64\\ 52\\ -38\\ 76\\ -64\\ 38\\ -22\\ 52\\ -76\\ 64\\ -38\\
-38\\ 64\\ -22\\ 52\\ -76\\ 38\\ -52\\ 64\\ -22\\ 38\\ -64\\ 76\\ -52\\ 22\\ -38\\ 64\\ -76\\ 52\\ -22\\ 38\\
64\\ -38\\ 22\\ -52\\ 76\\ -64\\ 38\\ -22\\ 52\\ -38\\ 64\\ -76\\ 22\\ -52\\ 38\\ -64\\ 52\\ -22\\ 76\\ -52\\
-52\\ 22\\ -64\\ 76\\ -38\\ 52\\ -22\\ 38\\ -76\\ 64\\ -52\\ 22\\ -38\\ 52\\ -64\\ 38\\ -22\\ 64\\ -52\\ 76\\
38\\ -64\\ 52\\ -76\\ 22\\ -38\\ 64\\ -52\\ 38\\ -22\\ 76\\ -64\\ 52\\ -38\\ 22\\ -52\\ 64\\ -76\\ 38\\ -22\\
-64\\ 52\\ -38\\ 22\\ -76\\ 64\\ -22\\ 38\\ -52\\ 76\\ -38\\ 52\\ -64\\ 22\\ -52\\ 38\\ -76\\ 64\\ -22\\ 52\\
22\\ -52\\ 76\\ -64\\ 38\\ -52\\ 22\\ -38\\ 64\\ -76\\ 52\\ -22\\ 38\\ -64\\ 76\\ -38\\ 52\\ -64\\ 22\\ -38\\
-76\\ 38\\ -52\\ 64\\ -22\\ 52\\ -64\\ 38\\ -22\\ 52\\ -76\\ 64\\ -38\\ 22\\ -52\\ 76\\ -38\\ 52\\ -64\\ 22\\
52\\ -76\\ 38\\ -22\\ 64\\ -52\\ 76\\ -38\\ 22\\ -64\\ 52\\ -38\\ 76\\ -64\\ 38\\ -22\\ 52\\ -76\\ 64\\ -38\\
-38\\ 64\\ -22\\ 52\\ -76\\ 38\\ -52\\ 64\\ -22\\ 38\\ -64\\ 76\\ -52\\ 22\\ -38\\ 64\\ -76\\ 52\\ -22\\ 38\\
64\\ -38\\ 22\\ -52\\ 76\\ -64\\ 38\\ -22\\ 52\\ -38\\ 64\\ -76\\ 22\\ -52\\ 38\\ -64\\ 52\\ -22\\ 76\\ -52\\
-52\\ 22\\ -64\\ 76\\ -38\\ 52\\ -22\\ 38\\ -76\\ 64\\ -52\\ 22\\ -38\\ 52\\ -64\\ 38\\ -22\\ 64\\ -52\\ 76\\
55\\ -92\\ 75\\ -110\\ 30\\ -55\\ 92\\ -75\\ 55\\ -30\\ 110\\ -92\\ 75\\ -55\\ 30\\ -75\\ 92\\ -110\\ 55\\ -30\\
-92\\ 75\\ -55\\ 30\\ -110\\ 92\\ -30\\ 55\\ -75\\ 110\\ -55\\ 75\\ -92\\ 30\\ -75\\ 55\\ -110\\ 92\\ -30\\ 75\\
30\\ -75\\ 110\\ -92\\ 55\\ -75\\ 30\\ -55\\ 92\\ -110\\ 75\\ -30\\ 55\\ -92\\ 110\\ -55\\ 75\\ -92\\ 30\\ -55\\
-76\\ 38\\ -52\\ 64\\ -22\\ 52\\ -64\\ 38\\ -22\\ 52\\ -76\\ 64\\ -38\\ 22\\ -52\\ 76\\ -38\\ 52\\ -64\\ 22\\
52\\ -76\\ 38\\ -22\\ 64\\ -52\\ 76\\ -38\\ 22\\ -64\\ 52\\ -38\\ 76\\ -64\\ 38\\ -22\\ 52\\ -76\\ 64\\ -38\\
-38\\ 64\\ -22\\ 52\\ -76\\ 38\\ -52\\ 64\\ -22\\ 38\\ -64\\ 76\\ -52\\ 22\\ -38\\ 64\\ -76\\ 52\\ -22\\ 38\\
64\\ -38\\ 22\\ -52\\ 76\\ -64\\ 38\\ -22\\ 52\\ -38\\ 64\\ -76\\ 22\\ -52\\ 38\\ -64\\ 52\\ -22\\ 76\\ -52\\
-52\\ 22\\ -64\\ 76\\ -38\\ 52\\ -22\\ 38\\ -76\\ 64\\ -52\\ 22\\ -38\\ 52\\ -64\\ 38\\ -22\\ 64\\ -52\\ 76\\
38\\ -64\\ 52\\ -76\\ 22\\ -38\\ 64\\ -52\\ 38\\ -22\\ 76\\ -64\\ 52\\ -38\\ 22\\ -52\\ 64\\ -76\\ 38\\ -22\\
-64\\ 52\\ -38\\ 22\\ -76\\ 64\\ -22\\ 38\\ -52\\ 76\\ -38\\ 52\\ -64\\ 22\\ -52\\ 38\\ -76\\ 64\\ -22\\ 52\\
22\\ -52\\ 76\\ -64\\ 38\\ -52\\ 22\\ -38\\ 64\\ -76\\ 52\\ -22\\ 38\\ -64\\ 76\\ -38\\ 52\\ -64\\ 22\\ -38\\
-76\\ 38\\ -52\\ 64\\ -22\\ 52\\ -64\\ 38\\ -22\\ 52\\ -76\\ 64\\ -38\\ 22\\ -52\\ -40\\ 116\\ -60\\ -64\\ 22\\
52\\ -76\\ 38\\ -22\\ 64\\ -52\\ 76\\ -38\\ 22\\ -64\\ 52\\ -38\\ 76\\ -64\\ 38\\ -22\\ 52\\ -76\\ 64\\ -38\\
-38\\ 64\\ -22\\ 52\\ -76\\ 38\\ -52\\ 64\\ -22\\ 38\\ -64\\ 76\\ -52\\ 22\\ -38\\ 64\\ -76\\ 52\\ -22\\ 38\\
64\\ -38\\ 22\\ -52\\ 76\\ -64\\ 38\\ -22\\ 52\\ -38\\ 64\\ -76\\ 22\\ -52\\ 38\\ -64\\ 52\\ -22\\ 76\\ -52\\
-52\\ 22\\ -64\\ 76\\ -38\\ 52\\ -22\\ 38\\ -76\\ 64\\ -52\\ 22\\ -38\\ 52\\ -64\\ 38\\ -22\\ 64\\ -52\\ 76\\
38\\ -64\\ 52\\ -76\\ 22\\ -38\\ 64\\ -52\\ 38\\ -22\\ 76\\ -64\\ 52\\ -38\\ 22\\ -52\\ 64\\ -76\\ 38\\ -22\\
-64\\ 52\\ -38\\ 22\\ -76\\ 64\\ -22\\ 38\\ -52\\ 76\\ -38\\ 52\\ -64\\ 22\\ -52\\ 38\\ -76\\ 64\\ -22\\ 52\\
22\\ -52\\ 76\\ -64\\ 38\\ -52\\ 22\\ -38\\ 64\\ -76\\ 52\\ -22\\ 38\\ -64\\ 76\\ -38\\ 52\\ -64\\ 22\\ -38\\
-76\\ 38\\ -52\\ 64\\ -22\\ 52\\ -60\\ 135\\ -80\\ 52\\ -76\\ 64\\ -38\\ 22\\ -52\\ 76\\ -38\\ 52\\ -64\\ 22\\
52\\ -76\\ 38\\ -22\\ 64\\ -52\\ 76\\ -38\\ 22\\ -64\\ 52\\ -38\\ 76\\ -64\\ 38\\ -22\\ 52\\ -76\\ 64\\ -38\\
-38\\ 64\\ -22\\ 52\\ -76\\ 38\\ -52\\ 64\\ -22\\ 38\\ -64\\ 76\\ -52\\ 22\\ -38\\ 64\\ -76\\ 52\\ -22\\ 38\\
64\\ -38\\ 22\\ -52\\ 76\\ -64\\ 38\\ -22\\ 100\\ -100\\ 64\\ -76\\ 22\\ -52\\ 38\\ -64\\ 52\\ -22\\ 76\\ -52\\
-52\\ 22\\ -64\\ 76\\ -38\\ 52\\ -22\\ 38\\ -76\\ 64\\ -52\\ 22\\ -38\\ 52\\ -64\\ 38\\ -22\\ 64\\ -52\\ 76\\
38\\ -64\\ 52\\ -76\\ 22\\ -38\\ 64\\ -52\\ 38\\ -22\\ 76\\ -64\\ 52\\ -38\\ 22\\ -52\\ 64\\ -76\\ 38\\ -22\\
-64\\ 52\\ -38\\ 22\\ -76\\ 64\\ -22\\ 38\\
}\dH

% Panel 9: DYA
\pgfplotstableread[header=false,row sep=\\]{
-27\\ 13\\ -18\\ 22\\ -8\\ 18\\ -22\\ 13\\ -8\\ 18\\ -27\\ 22\\ -13\\ 8\\ -18\\ 27\\ -13\\ 18\\ -22\\ 8\\
18\\ -27\\ 13\\ -8\\ 22\\ -18\\ 27\\ -13\\ 8\\ -22\\ 18\\ -13\\ 27\\ -22\\ 13\\ -8\\ 18\\ -27\\ 22\\ -13\\
-13\\ 22\\ -8\\ 18\\ -27\\ 13\\ -18\\ 22\\ -8\\ 13\\ -22\\ 27\\ -18\\ 8\\ -13\\ 22\\ -27\\ 18\\ -8\\ 13\\
22\\ -13\\ 8\\ -18\\ 27\\ -22\\ 13\\ -8\\ 18\\ -13\\ 22\\ -27\\ 8\\ -18\\ 13\\ -22\\ 18\\ -8\\ 27\\ -18\\
-18\\ 8\\ -22\\ 27\\ -13\\ 18\\ -8\\ 13\\ -27\\ 22\\ -18\\ 8\\ -13\\ 18\\ -22\\ 13\\ -8\\ 22\\ 60\\ -80\\
100\\ -120\\ 154\\ -110\\ 140\\ -100\\ 120\\ -130\\ 110\\ -90\\ 100\\ -110\\ 90\\ -80\\ 95\\ -85\\ 80\\ -70\\ 75\\ -65\\
60\\ -70\\ 55\\ -65\\ 70\\ -50\\ 60\\ -55\\ 65\\ -60\\ 50\\ -65\\ 60\\ -55\\ 70\\ -60\\ 126\\ -109\\ 70\\ -60\\
55\\ -60\\ 50\\ -45\\ 60\\ -50\\ 45\\ -55\\ 50\\ -40\\ 55\\ -50\\ 45\\ -55\\ 50\\ -45\\ 55\\ -50\\ 45\\ -40\\
80\\ -60\\ 50\\ -55\\ 45\\ -50\\ 40\\ -45\\ 50\\ -35\\ 45\\ -40\\ 35\\ -45\\ 40\\ -35\\ 45\\ -40\\ 35\\ -30\\
35\\ -30\\ 40\\ -35\\ 30\\ -35\\ 28\\ -32\\ 30\\ -28\\ 32\\ -25\\ 30\\ -28\\ 25\\ -30\\ 28\\ -25\\ 30\\ -27\\
-13\\ 22\\ -8\\ 18\\ -27\\ 13\\ -18\\ 22\\ -8\\ 13\\ -22\\ 27\\ -18\\ 8\\ -13\\ 22\\ -27\\ 18\\ -8\\ 13\\
22\\ -13\\ 8\\ -18\\ 27\\ -22\\ 13\\ -8\\ 18\\ -13\\ 22\\ -27\\ 8\\ -18\\ 13\\ -22\\ 18\\ -8\\ 27\\ -18\\
-18\\ 8\\ -22\\ 27\\ -13\\ 18\\ -8\\ 13\\ -27\\ 22\\ -18\\ 8\\ -13\\ 18\\ -22\\ 13\\ -8\\ 22\\ -18\\ 27\\
13\\ -22\\ 18\\ -27\\ 8\\ -13\\ 22\\ -18\\ 13\\ -8\\ 27\\ -22\\ 18\\ -13\\ 8\\ -18\\ 22\\ -27\\ 13\\ -8\\
-22\\ 18\\ -13\\ 8\\ -27\\ 22\\ -8\\ 13\\ -18\\ 27\\ -13\\ 18\\ -22\\ 8\\ -18\\ 13\\ -27\\ 22\\ -8\\ 18\\
8\\ -18\\ 27\\ -22\\ 13\\ -18\\ 8\\ -13\\ 22\\ -27\\ 18\\ -8\\ 13\\ -22\\ 27\\ -13\\ 18\\ -22\\ 8\\ -13\\
-27\\ 13\\ -18\\ 22\\ -8\\ 18\\ -22\\ 13\\ -8\\ 18\\ -27\\ 22\\ -13\\ 8\\ -18\\ 27\\ -13\\ 18\\ -22\\ 8\\
18\\ -27\\ 13\\ -8\\ 22\\ -18\\ 27\\ -13\\ 8\\ -22\\ 18\\ -13\\ 27\\ -22\\ 13\\ -8\\ 18\\ -27\\ 22\\ -13\\
-13\\ 22\\ -8\\ 18\\ -27\\ 13\\ -18\\ 22\\ -8\\ 13\\ -22\\ 27\\ -18\\ 8\\ -13\\ 22\\ -27\\ 18\\ -8\\ 13\\
22\\ -13\\ 8\\ -18\\ 27\\ -22\\ 13\\ -8\\ 18\\ -13\\ 22\\ -27\\ 8\\ -18\\ 13\\ -22\\ 18\\ -8\\ 27\\ -18\\
-18\\ 8\\ -22\\ 27\\ -13\\ 18\\ -8\\ 13\\ -27\\ 22\\ -18\\ 8\\ -13\\ 18\\ -22\\ 13\\ -8\\ 22\\ -18\\ 27\\
13\\ -22\\ 18\\ -27\\ 8\\ -13\\ 22\\ -18\\ 13\\ -8\\ 27\\ -22\\ 18\\ -13\\ 8\\ -18\\ 22\\ -27\\ 13\\ -8\\
-22\\ 18\\ -13\\ 8\\ -27\\ 22\\ -8\\ 13\\ -18\\ 27\\ -13\\ 18\\ -22\\ 8\\ -18\\ 13\\ -27\\ 22\\ -8\\ 18\\
8\\ -18\\ 27\\ -22\\ 13\\ -18\\ 8\\ -13\\ 22\\ -27\\ 18\\ -8\\ 13\\ -22\\ 27\\ -13\\ 18\\ -22\\ 8\\ -13\\
-27\\ 13\\ -18\\ 22\\ -8\\ 18\\ -22\\ 13\\ -8\\ 18\\ -27\\ 22\\ -13\\ 8\\ -18\\ 27\\ -13\\ 18\\ -22\\ 8\\
18\\ -27\\ 13\\ -8\\ 22\\ -18\\ 27\\ -13\\ 8\\ -22\\ 18\\ -13\\ 27\\ -22\\ 13\\ -8\\ 18\\ -27\\ 22\\ -13\\
-13\\ 22\\ -8\\ 18\\ -27\\ 13\\ -18\\ 22\\ -8\\ 13\\ -22\\ 27\\ -18\\ 8\\ -13\\ 22\\ -27\\ 18\\ -8\\ 13\\
22\\ -13\\ 8\\ -18\\ 27\\ -22\\ 13\\ -8\\ 18\\ -13\\ 22\\ -27\\ 8\\ -18\\ 13\\ -22\\ 18\\ -8\\ 27\\ -18\\
-18\\ 8\\ -22\\ 27\\ -13\\ 18\\ -8\\ 13\\ -27\\ 22\\ -18\\ 8\\ -13\\ 18\\ -22\\ 13\\ -8\\ 22\\ -18\\ 27\\
13\\ -22\\ 18\\ -27\\ 8\\ -13\\ 22\\ -18\\ 13\\ -8\\ 27\\ -22\\ 18\\ -13\\ 8\\ -18\\ 22\\ -27\\ 13\\ -8\\
-22\\ 18\\ -13\\ 8\\ -27\\ 22\\ -8\\ 13\\ -18\\ 27\\ -13\\ 18\\ -22\\ 8\\ -18\\ 13\\ -27\\ 22\\ -8\\ 18\\
8\\ -18\\ 27\\ -22\\ 13\\ -18\\ 8\\ -13\\ 22\\ -27\\ 18\\ -8\\ 13\\ -22\\ 27\\ -13\\ 18\\ -22\\ 8\\ -13\\
-27\\ 13\\ -18\\ 22\\ -8\\ 18\\ -22\\ 13\\ -8\\ 18\\ -27\\ 22\\ -13\\ 8\\ -18\\ 27\\ -13\\ 18\\ -22\\ 8\\
18\\ -27\\ 13\\ -8\\ 22\\ -18\\ 27\\ -13\\ 8\\ -22\\ 18\\ -13\\ 27\\ -22\\ 13\\ -8\\ 18\\ -27\\ 22\\ -13\\
-13\\ 22\\ -8\\ 18\\ -27\\ 13\\ -18\\ 22\\ -8\\ 13\\ -22\\ 27\\ -18\\ 8\\ -13\\ 22\\ -27\\ 18\\ -8\\ 13\\
22\\ -13\\ 8\\ -18\\ 27\\ -22\\ 13\\ -8\\ 18\\ -13\\ 22\\ -27\\ 8\\ -18\\ 13\\ -22\\ 18\\ -8\\ 27\\ -18\\
-18\\ 8\\ -22\\ 27\\ -13\\ 18\\ -8\\ 13\\ -27\\ 22\\ -18\\ 8\\ -13\\ 18\\ -22\\ 13\\ -8\\ 22\\ -18\\ 27\\
13\\ -22\\ 18\\ -27\\ 8\\ -13\\ 22\\ -18\\ 13\\ -8\\ 27\\ -22\\ 18\\ -13\\ 8\\ -18\\ 22\\ -27\\ 13\\ -8\\
-22\\ 18\\ -13\\ 8\\ -27\\ 22\\ -8\\ 13\\ -18\\ 27\\ -13\\ 18\\ -22\\ 8\\ -18\\ 13\\ -27\\ 22\\ -8\\ 18\\
8\\ -18\\ 27\\ -22\\ 13\\ -18\\ 8\\ -13\\ 22\\ -27\\ 18\\ -8\\ 13\\ -22\\ 27\\ -13\\ 18\\ -22\\ 8\\ -13\\
-27\\ 13\\ -18\\ 22\\ -8\\ 18\\ -22\\ 13\\ -8\\ 18\\ -27\\ 22\\ -13\\ 8\\ -18\\ 27\\ -13\\ 18\\ -22\\ 8\\
18\\ -27\\ 13\\ -8\\ 22\\ -18\\ 27\\ -13\\ 8\\ -22\\ 18\\ -13\\ 27\\ -22\\ 13\\ -8\\ 18\\ -27\\ 22\\ -13\\
-13\\ 22\\ -8\\ 18\\ -27\\ 13\\ -18\\ 22\\ -8\\ 13\\ -22\\ 27\\ -18\\ 8\\ -13\\ 22\\ -27\\ 18\\ -8\\ 13\\
22\\ -13\\ 8\\ -18\\ 27\\ -22\\ 13\\ -8\\ 18\\ -13\\ 22\\ -27\\ 8\\ -18\\ 13\\ -22\\ 18\\ -8\\ 27\\ -18\\
-18\\ 8\\ -22\\ 27\\ -13\\ 18\\ -8\\ 13\\ -27\\ 22\\ -18\\ 8\\ -13\\ 18\\ -22\\ 13\\ -8\\ 22\\ -18\\ 27\\
13\\ -22\\ 18\\ -27\\ 8\\ -13\\ 22\\ -18\\ 13\\ -8\\ 27\\ -22\\ 18\\ -13\\ 8\\ -18\\ 22\\ -27\\ 13\\ -8\\
-22\\ 18\\ -13\\ 8\\ -27\\ 22\\ -8\\ 13\\ -18\\ 27\\ -13\\ 18\\ -22\\ 8\\ -18\\ 13\\ -27\\ 22\\ -8\\ 18\\
8\\ -18\\ 27\\ -22\\ 13\\ -18\\ 8\\ -13\\ 22\\ -27\\ 18\\ -8\\ 13\\ -22\\ 27\\ -13\\ 18\\ -22\\ 8\\ -13\\
-27\\ 13\\ -18\\ 22\\ -8\\ 18\\ -22\\ 13\\ -8\\ 18\\ -27\\ 22\\ -13\\ 8\\ -18\\ 27\\ -13\\ 18\\ -22\\ 8\\
18\\ -27\\ 13\\ -8\\ 22\\ -18\\ 27\\ -13\\
}\dI

% Panel 10: HTL
\pgfplotstableread[header=false,row sep=\\]{
-10\\ 4\\ -12\\ 15\\ -7\\ 10\\ -4\\ 7\\ -15\\ 12\\ -10\\ 4\\ -7\\ 10\\ -12\\ 7\\ -4\\ 12\\ -10\\ 15\\
7\\ -12\\ 10\\ -15\\ 4\\ -7\\ 12\\ -10\\ 7\\ -4\\ 15\\ -12\\ 10\\ -7\\ 4\\ -10\\ 12\\ -15\\ 7\\ -4\\
-12\\ 10\\ -7\\ 4\\ -15\\ 12\\ -4\\ 7\\ -10\\ 15\\ -7\\ 10\\ -12\\ 4\\ -10\\ 7\\ -15\\ 12\\ -4\\ 10\\
4\\ -10\\ 15\\ -12\\ 7\\ -10\\ 4\\ -7\\ 12\\ -15\\ 10\\ -4\\ 7\\ -12\\ 15\\ -7\\ 10\\ -12\\ 4\\ -7\\
-15\\ 7\\ -10\\ 12\\ -4\\ 10\\ -12\\ 7\\ -4\\ 10\\ -15\\ 12\\ -7\\ 4\\ -10\\ 15\\ 20\\ -25\\ 32\\ -30\\
28\\ -33\\ 30\\ -31\\ 25\\ -28\\ 22\\ -20\\ 18\\ -22\\ 20\\ -16\\ 15\\ -18\\ 14\\ -15\\ 13\\ -12\\ 15\\ -14\\
13\\ -15\\ 12\\ -11\\ 14\\ -12\\ 10\\ -13\\ 11\\ -9\\ 12\\ -14\\ 10\\ -11\\ 13\\ -10\\ 9\\ -12\\ 11\\ -10\\
12\\ -7\\ 4\\ -10\\ 15\\ -12\\ 7\\ -4\\ 10\\ -7\\ 12\\ -15\\ 4\\ -10\\ 7\\ -12\\ 10\\ -4\\ 15\\ -10\\
-10\\ 4\\ -12\\ 15\\ -7\\ 10\\ -4\\ 7\\ -15\\ 12\\ -10\\ 4\\ -7\\ 10\\ -12\\ 7\\ -4\\ 12\\ -10\\ 15\\
7\\ -12\\ 10\\ -15\\ 4\\ -7\\ 12\\ -10\\ 7\\ -4\\ 15\\ -12\\ 10\\ -7\\ 4\\ -10\\ 12\\ -15\\ 7\\ -4\\
-12\\ 10\\ -7\\ 4\\ -15\\ 12\\ -4\\ 7\\ -10\\ 15\\ -7\\ 10\\ -12\\ 4\\ -10\\ 7\\ -15\\ 12\\ -4\\ 10\\
4\\ -10\\ 15\\ -12\\ 7\\ -10\\ 4\\ -7\\ 12\\ -15\\ 10\\ -4\\ 7\\ -12\\ 15\\ -7\\ 10\\ -12\\ 4\\ -7\\
-15\\ 7\\ -10\\ 12\\ -4\\ 10\\ -12\\ 7\\ -4\\ 10\\ -15\\ 12\\ -7\\ 4\\ -10\\ 15\\ -7\\ 10\\ -12\\ 4\\
10\\ -15\\ 7\\ -4\\ 12\\ -10\\ 15\\ -7\\ 4\\ -12\\ 10\\ -7\\ 15\\ -12\\ 7\\ -4\\ 25\\ -15\\ 12\\ -7\\
-7\\ 12\\ -4\\ 21\\ -15\\ 7\\ -10\\ 12\\ -4\\ 7\\ -12\\ 15\\ -10\\ 4\\ -7\\ 12\\ -15\\ 10\\ -4\\ 7\\
12\\ -7\\ 4\\ -10\\ 15\\ -12\\ 7\\ -4\\ 10\\ -7\\ 12\\ -15\\ 4\\ -10\\ 7\\ -12\\ 10\\ -4\\ 15\\ -10\\
-10\\ 4\\ -12\\ 15\\ -7\\ 10\\ -4\\ 7\\ -15\\ 12\\ -10\\ 4\\ -7\\ 10\\ -12\\ 7\\ -4\\ 12\\ -10\\ 15\\
7\\ -12\\ 10\\ -15\\ 4\\ -7\\ 12\\ -10\\ 7\\ -4\\ 15\\ -12\\ 10\\ -7\\ 4\\ -10\\ 12\\ -15\\ 7\\ -4\\
-12\\ 10\\ -7\\ 4\\ -15\\ 12\\ 8\\ -25\\ -10\\ 15\\ -7\\ 10\\ -12\\ 4\\ -10\\ 7\\ -15\\ 12\\ -4\\ 10\\
4\\ -10\\ 15\\ -12\\ 7\\ -10\\ 4\\ -7\\ 12\\ -15\\ 10\\ -4\\ 7\\ -12\\ 15\\ -7\\ 18\\ -12\\ 4\\ -7\\
-15\\ 7\\ -10\\ 12\\ -4\\ 10\\ -12\\ 7\\ -4\\ 10\\ -15\\ 12\\ -7\\ 4\\ -10\\ 15\\ -7\\ 10\\ -12\\ 4\\
10\\ -15\\ 7\\ -4\\ 12\\ -10\\ 15\\ -7\\ 4\\ -12\\ 10\\ -7\\ 15\\ -12\\ 7\\ -4\\ 10\\ -15\\ 12\\ -7\\
-7\\ 12\\ -4\\ 10\\ -15\\ 7\\ -10\\ 12\\ -4\\ 7\\ -12\\ 15\\ -10\\ 4\\ -7\\ 12\\ -15\\ 10\\ -4\\ 7\\
12\\ -7\\ 4\\ -10\\ 15\\ -12\\ 7\\ -4\\ 10\\ -7\\ 12\\ -15\\ 4\\ -10\\ 7\\ -12\\ 10\\ -4\\ 15\\ -10\\
-10\\ 4\\ -12\\ 15\\ -7\\ 10\\ -4\\ 7\\ -15\\ 12\\ -10\\ 4\\ -7\\ 10\\ -12\\ 7\\ -4\\ 12\\ -10\\ 15\\
7\\ -12\\ 10\\ -15\\ 4\\ -7\\ 12\\ -10\\ 7\\ -4\\ 15\\ -12\\ 10\\ -7\\ 4\\ -10\\ 12\\ -15\\ 7\\ -4\\
-12\\ 10\\ -7\\ 4\\ -15\\ 12\\ -4\\ 7\\ -10\\ 15\\ -7\\ 10\\ -12\\ 4\\ -10\\ 7\\ -15\\ 12\\ -4\\ 10\\
4\\ -10\\ 15\\ -12\\ 7\\ -10\\ 4\\ -7\\ 12\\ -15\\ 10\\ -4\\ 7\\ -12\\ 15\\ -7\\ 10\\ -12\\ 4\\ -7\\
-15\\ 7\\ -10\\ 12\\ -4\\ 10\\ -12\\ 7\\ -4\\ 10\\ -15\\ 12\\ -7\\ 4\\ -10\\ 15\\ -7\\ 10\\ -12\\ 4\\
10\\ -15\\ 7\\ -4\\ 12\\ -10\\ 15\\ -7\\ 4\\ -12\\ 10\\ -7\\ 15\\ -12\\ 7\\ -4\\ 10\\ -15\\ 12\\ -7\\
-7\\ 12\\ -4\\ 10\\ -15\\ 7\\ -10\\ 12\\ -4\\ 7\\ -12\\ 15\\ -10\\ 4\\ -7\\ 12\\ -15\\ 10\\ -4\\ 7\\
12\\ -7\\ 4\\ -10\\ 15\\ -12\\ 7\\ -4\\ 10\\ -7\\ 12\\ -15\\ 4\\ -10\\ 7\\ -12\\ 10\\ -4\\ 15\\ -10\\
-10\\ 4\\ -12\\ 15\\ -7\\ 10\\ -4\\ 7\\ -15\\ 12\\ -10\\ 4\\ -7\\ 10\\ -12\\ 7\\ -4\\ 12\\ -10\\ 15\\
7\\ -12\\ 10\\ -15\\ 4\\ -7\\ 12\\ -10\\ 7\\ -4\\ 15\\ -12\\ 10\\ -7\\ 4\\ -10\\ 12\\ -15\\ 7\\ -4\\
-12\\ 10\\ -7\\ 4\\ -15\\ 12\\ -4\\ 7\\ -10\\ 15\\ -7\\ 10\\ -12\\ 4\\ -10\\ 7\\ -15\\ 12\\ -4\\ 10\\
4\\ -10\\ 15\\ -12\\ 7\\ -10\\ 4\\ -7\\ 12\\ -15\\ 10\\ -4\\ 7\\ -12\\ 15\\ -7\\ 10\\ -12\\ 4\\ -7\\
-15\\ 7\\ -10\\ 12\\ -4\\ 10\\ -12\\ 7\\ -4\\ 10\\ -15\\ 12\\ -7\\ 4\\ -10\\ 15\\ -7\\ 10\\ -12\\ 4\\
10\\ -15\\ 7\\ -4\\ 12\\ -10\\ 15\\ -7\\ 4\\ -12\\ 10\\ -7\\ 15\\ -12\\ 7\\ -4\\ 10\\ -15\\ 12\\ -7\\
-7\\ 12\\ -4\\ 10\\ -15\\ 7\\ -10\\ 12\\ -4\\ 7\\ -12\\ 15\\ -10\\ 4\\ -7\\ 12\\ -15\\ 10\\ -4\\ 7\\
12\\ -7\\ 4\\ -10\\ 15\\ -12\\ 7\\ -4\\ 10\\ -7\\ 12\\ -15\\ 4\\ -10\\ 7\\ -12\\ 10\\ -4\\ 15\\ -10\\
-10\\ 4\\ -12\\ 15\\ -7\\ 10\\ -4\\ 7\\ -15\\ 12\\ -10\\ 4\\ -7\\ 10\\ -12\\ 7\\ -4\\ 12\\ -10\\ 15\\
7\\ -12\\ 10\\ -15\\ 4\\ -7\\ 12\\ -10\\ 7\\ -4\\ 15\\ -12\\ 10\\ -7\\ 4\\ -10\\ 12\\ -15\\ 7\\ -4\\
-12\\ 10\\ -7\\ 4\\ -15\\ 12\\ -4\\ 7\\ -10\\ 15\\ -7\\ 10\\ -12\\ 4\\ -10\\ 7\\ -15\\ 12\\ -4\\ 10\\
4\\ -10\\ 15\\ -12\\ 7\\ -10\\ 4\\ -7\\ 12\\ -15\\ 10\\ -4\\ 7\\ -12\\ 15\\ -7\\ 10\\ -12\\ 4\\ -7\\
-15\\ 7\\ -10\\ 12\\ -4\\ 10\\ -12\\ 7\\ -4\\ 10\\ -15\\ 12\\ -7\\ 4\\ -10\\ 15\\ -7\\ 10\\ -12\\ 4\\
10\\ -15\\ 7\\ -4\\ 12\\ -10\\ 15\\ -7\\ 4\\ -12\\ 10\\ -7\\ 15\\ -12\\ 7\\ -4\\ 10\\ -15\\ 12\\ -7\\
-7\\ 12\\ -4\\ 10\\ -15\\ 7\\ -10\\ 12\\ -4\\ 7\\ -12\\ 15\\ -10\\ 4\\ -7\\ 12\\ -15\\ 10\\ -4\\ 7\\
12\\ -7\\ 4\\ -10\\ 15\\ -12\\ 7\\ -4\\ 10\\ -7\\ 12\\ -15\\ 4\\ -10\\ 7\\ -12\\ 10\\ -4\\ 15\\ -10\\
-10\\ 4\\ -12\\ 15\\ -7\\ 10\\ -4\\ 7\\ -15\\ 12\\ -10\\ 4\\ -7\\ 10\\ -12\\ 7\\ -4\\ 12\\ -10\\ 15\\
7\\ -12\\ 10\\ -15\\ 4\\ -7\\ 12\\ -10\\
}\dJ

\pgfplotsset{
  panel/.style={
    width=16.72in, height=0.924in, scale only axis,
    anchor=south west,
    xmin=693.8, xmax=1187.4,
    xtick={700,800,900,1000,1100},
    xticklabels={},
    tick align=inside,
    xtick pos=both, ytick pos=both,
    major tick length=0.049in,
    tick style={black, line width=0.8bp},
    axis line style={black, line width=0.8bp},
    ticklabel style={font=\fontsize{10}{12}\selectfont},
    yticklabel style={inner sep=0pt, xshift=-0.05in},
    xticklabel style={inner sep=0pt, yshift=-0.06in},
  },
  wave/.style={tabblue, line width=0.85bp, no marks, line join=bevel},
  ph/.style={dash pattern=on 5.5bp off 2.4bp, line width=1.4bp, no marks, forget plot},
}
\tikzset{
  plab/.style={anchor=base east, inner sep=0pt, xshift=-0.045in, yshift=0.055in},
  stn/.style={anchor=base west, inner sep=0pt, xshift=0.165in, yshift=-0.147in},
}

% #1 P, #2 PcP, #3 pP, #4 PP, #5 PKiKP, #6 half range
\newcommand\phases[6]{%
  \addplot[ph, linePcP] coordinates {(#2,-#6) (#2,#6)};
  \addplot[ph, lineP] coordinates {(#1,-#6) (#1,#6)};
  \addplot[ph, lineO] coordinates {(#3,-#6) (#3,#6)};
  \addplot[ph, linePP] coordinates {(#4,-#6) (#4,#6)};
  \addplot[ph, lineO] coordinates {(#5,-#6) (#5,#6)};
  \node[plab, text=txtPcP] at (axis cs:#2,-#6) {PcP};
  \node[plab, text=txtP] at (axis cs:#1,-#6) {P};
  \node[plab, text=txtO] at (axis cs:#3,-#6) {pP};
  \node[plab, text=txtPP] at (axis cs:#4,-#6) {PP};
  \node[plab, text=txtO] at (axis cs:#5,-#6) {PKiKP};
}

\begin{document}
\begin{tikzpicture}
\useasboundingbox (0,0) rectangle (19in,11in);

\node[anchor=base] at (9.5in,10.783in) {M5.9 68 km ENE of Mutsu, Japan 2023-05-05 17:47:15.641000};
\node[anchor=base] at (9.5in,10.617in) {from the Raspberry Shake Network};
\node[anchor=base] at (9.5in,10.457in) {depth: 52.915 km, distance: 9361.0 km.};

\begin{axis}[panel, at={(1.52in,9.196in)}, ymin=-41.7, ymax=41.7, ytick={-25,0,25}, yticklabels={-2.5e-06,0.0e+00,2.5e-06}]
\addplot[wave] table[x expr=693.8+1.0012*\coordindex, y index=0] {\dA};
\phases{744.2}{748.0}{759.4}{938.0}{1059.2}{41.7}
\node[stn] at (rel axis cs:0,1) {R92ED 83.96° Hayle};
\end{axis}

\begin{axis}[panel, at={(1.52in,8.272in)}, ymin=-173, ymax=173, ytick={-100,0,100}, yticklabels={-1.0e-07,0.0e+00,1.0e-07}]
\addplot[wave] table[x expr=693.8+0.5*\coordindex, y index=0] {\dB};
\phases{743.9}{747.8}{759.2}{937.6}{1059.1}{173}
\node[stn] at (rel axis cs:0,1) {R0B2D 83.91° Falmouth};
\end{axis}

\begin{axis}[panel, at={(1.52in,7.348in)}, ymin=-162, ymax=162, ytick={-100,0,100}, yticklabels={-1.0e-07,0.0e+00,1.0e-07}]
\addplot[wave] table[x expr=693.8+0.5*\coordindex, y index=0] {\dC};
\phases{743.9}{747.8}{759.2}{937.6}{1059.1}{162}
\node[stn] at (rel axis cs:0,1) {CCA1 83.91° Carnmenellis};
\end{axis}

\begin{axis}[panel, at={(1.52in,6.424in)}, ymin=-319, ymax=319, ytick={-250,0,250}, yticklabels={-2.5e-07,0.0e+00,2.5e-07}]
\addplot[wave] table[x expr=693.8+0.5*\coordindex, y index=0] {\dD};
\phases{743.4}{747.3}{758.6}{936.8}{1059.0}{319}
\node[stn] at (rel axis cs:0,1) {SDF0E 83.8° Station Road};
\end{axis}

\begin{axis}[panel, at={(1.52in,5.5in)}, ymin=-292, ymax=292, ytick={-200,0,200}, yticklabels={-2.0e-07,0.0e+00,2.0e-07}]
\addplot[wave] table[x expr=693.8+0.5*\coordindex, y index=0] {\dE};
\phases{743.3}{747.2}{758.6}{936.7}{1059.0}{292}
\node[stn] at (rel axis cs:0,1) {R7FA5 83.79° Truro School};
\end{axis}

\begin{axis}[panel, at={(1.52in,4.576in)}, ymin=-320, ymax=320, ytick={-250,0,250}, yticklabels={-2.5e-07,0.0e+00,2.5e-07}]
\addplot[wave] table[x expr=693.8+0.5*\coordindex, y index=0] {\dF};
\phases{743.2}{747.2}{758.5}{936.6}{1058.9}{320}
\node[stn] at (rel axis cs:0,1) {R0353 83.78° Penair};
\end{axis}

\begin{axis}[panel, at={(1.52in,3.652in)}, ymin=-373, ymax=373, ytick={-250,0,250}, yticklabels={-2.5e-07,0.0e+00,2.5e-07}]
\addplot[wave] table[x expr=693.8+0.5*\coordindex, y index=0] {\dG};
\phases{742.8}{746.8}{758.1}{936.0}{1058.8}{373}
\node[stn] at (rel axis cs:0,1) {RA2AC 83.7° St Newlyn East};
\end{axis}

\begin{axis}[panel, at={(1.52in,2.728in)}, ymin=-369, ymax=369, ytick={-250,0,250}, yticklabels={-2.5e-07,0.0e+00,2.5e-07}]
\addplot[wave] table[x expr=693.8+0.5*\coordindex, y index=0] {\dH};
\phases{742.6}{746.6}{757.9}{935.6}{1058.8}{369}
\node[stn] at (rel axis cs:0,1) {RD232 83.65° Newquay};
\end{axis}

\begin{axis}[panel, at={(1.52in,1.804in)}, ymin=-163, ymax=163, ytick={-100,0,100}, yticklabels={-1.0e-07,0.0e+00,1.0e-07}]
\addplot[wave] table[x expr=693.8+0.5*\coordindex, y index=0] {\dI};
\phases{740.9}{745.2}{756.3}{933.2}{1058.3}{163}
\node[stn] at (rel axis cs:0,1) {DYA 83.34° Yadsworthy};
\end{axis}

\begin{axis}[panel, at={(1.52in,0.88in)}, ymin=-45.6, ymax=45.6, ytick={-25,0,25}, yticklabels={-2.5e-08,0.0e+00,2.5e-08}, xticklabels={700,800,900,1000,1100}]
\addplot[wave] table[x expr=693.8+0.5*\coordindex, y index=0] {\dJ};
\phases{739.0}{743.6}{754.5}{930.4}{1057.8}{45.6}
\node[stn] at (rel axis cs:0,1) {HTL 82.98° Hartland};
\end{axis}

\node[rotate=90] at (0.17in,5.5in) {Velocity [m/s]};
\node[anchor=base west] at (0.15in,0.13in) {Channel: EHZ, filter: "bandpass", freqmin=1.3, freqmax=4.3, corners=4};
\node[anchor=base] at (9.5in,0.13in) {Time since earthquake [s]};
\end{tikzpicture}
\end{document}
